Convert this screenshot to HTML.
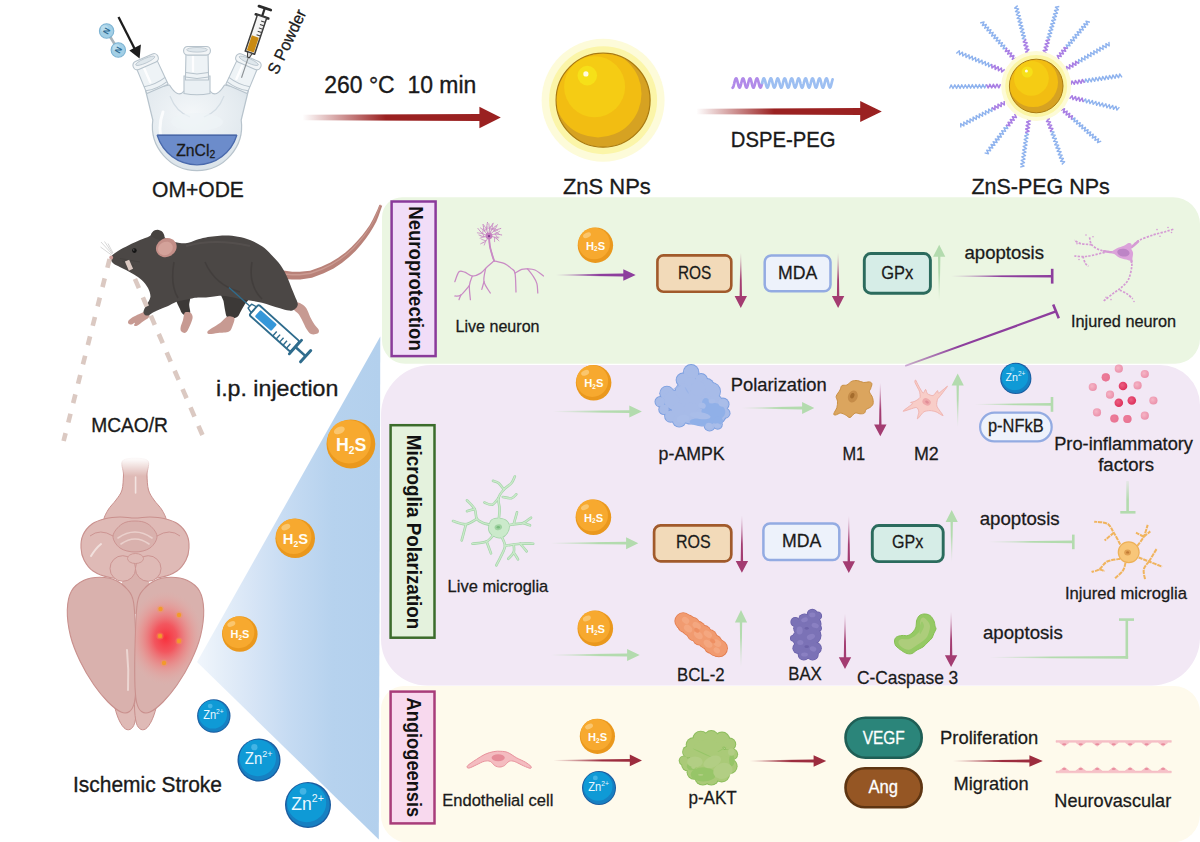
<!DOCTYPE html>
<html><head><meta charset="utf-8"><title>ZnS-PEG NPs scheme</title>
<style>html,body{margin:0;padding:0;background:#fff}svg{display:block}text{font-family:"Liberation Sans",sans-serif}</style></head>
<body>
<svg width="1200" height="842" viewBox="0 0 1200 842">
<defs>
<linearGradient id="beam" gradientUnits="userSpaceOnUse" x1="197" y1="0" x2="380" y2="0"><stop offset="0" stop-color="#f1f6fc"/><stop offset="0.12" stop-color="#e6eff9"/><stop offset="0.3" stop-color="#d7e5f6"/><stop offset="0.52" stop-color="#c4daf2"/><stop offset="0.74" stop-color="#b6d2ee"/><stop offset="1" stop-color="#b3d0ed"/></linearGradient>
<radialGradient id="glass" cx="0.45" cy="0.35" r="0.7"><stop offset="0" stop-color="#f4f7f9"/><stop offset="0.7" stop-color="#e3eaef"/><stop offset="1" stop-color="#d7e0e7"/></radialGradient>
<linearGradient id="stemfade" x1="0" y1="0" x2="0" y2="1"><stop offset="0" stop-color="#fff" stop-opacity="1"/><stop offset="0.12" stop-color="#fff" stop-opacity="0.9"/><stop offset="0.5" stop-color="#fff" stop-opacity="0"/></linearGradient>
<radialGradient id="isch"><stop offset="0" stop-color="#f8303c" stop-opacity="1"/><stop offset="0.3" stop-color="#f64a54" stop-opacity="0.88"/><stop offset="0.65" stop-color="#f0807f" stop-opacity="0.5"/><stop offset="1" stop-color="#e6a9a6" stop-opacity="0"/></radialGradient>
<linearGradient id="ha1" gradientUnits="userSpaceOnUse" x1="302.5" y1="0" x2="500.8" y2="0"><stop offset="0" stop-color="#9a2121" stop-opacity="0"/><stop offset="0.42" stop-color="#9a2121" stop-opacity="1"/><stop offset="1" stop-color="#9a2121"/></linearGradient>
<linearGradient id="ha2" gradientUnits="userSpaceOnUse" x1="696.3" y1="0" x2="881.8" y2="0"><stop offset="0" stop-color="#9a2121" stop-opacity="0"/><stop offset="0.42" stop-color="#9a2121" stop-opacity="1"/><stop offset="1" stop-color="#9a2121"/></linearGradient>
<linearGradient id="ha3" gradientUnits="userSpaceOnUse" x1="556" y1="0" x2="635.7" y2="0"><stop offset="0" stop-color="#8d3e9d" stop-opacity="0"/><stop offset="0.55" stop-color="#8d3e9d" stop-opacity="1"/><stop offset="1" stop-color="#8d3e9d"/></linearGradient>
<linearGradient id="va4" gradientUnits="userSpaceOnUse" x1="0" y1="252.7" x2="0" y2="307.9"><stop offset="0" stop-color="#a33c71" stop-opacity="0"/><stop offset="0.5" stop-color="#a33c71" stop-opacity="1"/><stop offset="1" stop-color="#a33c71"/></linearGradient>
<linearGradient id="va5" gradientUnits="userSpaceOnUse" x1="0" y1="252.7" x2="0" y2="307.9"><stop offset="0" stop-color="#a33c71" stop-opacity="0"/><stop offset="0.5" stop-color="#a33c71" stop-opacity="1"/><stop offset="1" stop-color="#a33c71"/></linearGradient>
<linearGradient id="va6" gradientUnits="userSpaceOnUse" x1="0" y1="300.7" x2="0" y2="244.7"><stop offset="0" stop-color="#b3dbae" stop-opacity="0"/><stop offset="0.5" stop-color="#b3dbae" stop-opacity="1"/><stop offset="1" stop-color="#b3dbae"/></linearGradient>
<linearGradient id="tb7" gradientUnits="userSpaceOnUse" x1="951" y1="0" x2="1052.2" y2="0"><stop offset="0" stop-color="#8d3e9d" stop-opacity="0"/><stop offset="0.5" stop-color="#8d3e9d" stop-opacity="1"/><stop offset="1" stop-color="#8d3e9d"/></linearGradient>
<linearGradient id="dg8" gradientUnits="userSpaceOnUse" x1="893" y1="370" x2="1056" y2="311"><stop offset="0" stop-color="#8d3e9d" stop-opacity="0.25"/><stop offset="0.4" stop-color="#8d3e9d"/><stop offset="1" stop-color="#8d3e9d"/></linearGradient>
<linearGradient id="ha9" gradientUnits="userSpaceOnUse" x1="553" y1="0" x2="641.9" y2="0"><stop offset="0" stop-color="#b3dbae" stop-opacity="0"/><stop offset="0.55" stop-color="#b3dbae" stop-opacity="1"/><stop offset="1" stop-color="#b3dbae"/></linearGradient>
<linearGradient id="ha10" gradientUnits="userSpaceOnUse" x1="741.7" y1="0" x2="814.3" y2="0"><stop offset="0" stop-color="#b3dbae" stop-opacity="0"/><stop offset="0.55" stop-color="#b3dbae" stop-opacity="1"/><stop offset="1" stop-color="#b3dbae"/></linearGradient>
<linearGradient id="va11" gradientUnits="userSpaceOnUse" x1="0" y1="382.8" x2="0" y2="436.3"><stop offset="0" stop-color="#a33c71" stop-opacity="0"/><stop offset="0.5" stop-color="#a33c71" stop-opacity="1"/><stop offset="1" stop-color="#a33c71"/></linearGradient>
<linearGradient id="va12" gradientUnits="userSpaceOnUse" x1="0" y1="427" x2="0" y2="373.4"><stop offset="0" stop-color="#b3dbae" stop-opacity="0"/><stop offset="0.5" stop-color="#b3dbae" stop-opacity="1"/><stop offset="1" stop-color="#b3dbae"/></linearGradient>
<linearGradient id="tb13" gradientUnits="userSpaceOnUse" x1="974.7" y1="0" x2="1052" y2="0"><stop offset="0" stop-color="#b3dbae" stop-opacity="0"/><stop offset="0.5" stop-color="#b3dbae" stop-opacity="1"/><stop offset="1" stop-color="#b3dbae"/></linearGradient>
<linearGradient id="vt14" gradientUnits="userSpaceOnUse" x1="0" y1="481" x2="0" y2="512"><stop offset="0" stop-color="#b3dbae" stop-opacity="0.2"/><stop offset="0.6" stop-color="#b3dbae"/></linearGradient>
<linearGradient id="ha15" gradientUnits="userSpaceOnUse" x1="550.5" y1="0" x2="638.3" y2="0"><stop offset="0" stop-color="#b3dbae" stop-opacity="0"/><stop offset="0.55" stop-color="#b3dbae" stop-opacity="1"/><stop offset="1" stop-color="#b3dbae"/></linearGradient>
<linearGradient id="va16" gradientUnits="userSpaceOnUse" x1="0" y1="515.3" x2="0" y2="572.7"><stop offset="0" stop-color="#a33c71" stop-opacity="0"/><stop offset="0.5" stop-color="#a33c71" stop-opacity="1"/><stop offset="1" stop-color="#a33c71"/></linearGradient>
<linearGradient id="va17" gradientUnits="userSpaceOnUse" x1="0" y1="516" x2="0" y2="573"><stop offset="0" stop-color="#a33c71" stop-opacity="0"/><stop offset="0.5" stop-color="#a33c71" stop-opacity="1"/><stop offset="1" stop-color="#a33c71"/></linearGradient>
<linearGradient id="va18" gradientUnits="userSpaceOnUse" x1="0" y1="562" x2="0" y2="510"><stop offset="0" stop-color="#b3dbae" stop-opacity="0"/><stop offset="0.5" stop-color="#b3dbae" stop-opacity="1"/><stop offset="1" stop-color="#b3dbae"/></linearGradient>
<linearGradient id="tb19" gradientUnits="userSpaceOnUse" x1="988.3" y1="0" x2="1073.3" y2="0"><stop offset="0" stop-color="#b3dbae" stop-opacity="0"/><stop offset="0.5" stop-color="#b3dbae" stop-opacity="1"/><stop offset="1" stop-color="#b3dbae"/></linearGradient>
<linearGradient id="ha20" gradientUnits="userSpaceOnUse" x1="550.8" y1="0" x2="639.7" y2="0"><stop offset="0" stop-color="#b3dbae" stop-opacity="0"/><stop offset="0.55" stop-color="#b3dbae" stop-opacity="1"/><stop offset="1" stop-color="#b3dbae"/></linearGradient>
<linearGradient id="va21" gradientUnits="userSpaceOnUse" x1="0" y1="667" x2="0" y2="610"><stop offset="0" stop-color="#b3dbae" stop-opacity="0"/><stop offset="0.5" stop-color="#b3dbae" stop-opacity="1"/><stop offset="1" stop-color="#b3dbae"/></linearGradient>
<linearGradient id="va22" gradientUnits="userSpaceOnUse" x1="0" y1="613.8" x2="0" y2="669"><stop offset="0" stop-color="#a33c71" stop-opacity="0"/><stop offset="0.5" stop-color="#a33c71" stop-opacity="1"/><stop offset="1" stop-color="#a33c71"/></linearGradient>
<linearGradient id="va23" gradientUnits="userSpaceOnUse" x1="0" y1="611.7" x2="0" y2="667"><stop offset="0" stop-color="#a33c71" stop-opacity="0"/><stop offset="0.5" stop-color="#a33c71" stop-opacity="1"/><stop offset="1" stop-color="#a33c71"/></linearGradient>
<linearGradient id="lt24" gradientUnits="userSpaceOnUse" x1="989" y1="0" x2="1128" y2="0"><stop offset="0" stop-color="#b3dbae" stop-opacity="0"/><stop offset="0.45" stop-color="#b3dbae"/></linearGradient>
<linearGradient id="ha25" gradientUnits="userSpaceOnUse" x1="553.3" y1="0" x2="642" y2="0"><stop offset="0" stop-color="#9c2c3e" stop-opacity="0"/><stop offset="0.55" stop-color="#9c2c3e" stop-opacity="1"/><stop offset="1" stop-color="#9c2c3e"/></linearGradient>
<linearGradient id="ha26" gradientUnits="userSpaceOnUse" x1="749.6" y1="0" x2="826.2" y2="0"><stop offset="0" stop-color="#9c2c3e" stop-opacity="0"/><stop offset="0.55" stop-color="#9c2c3e" stop-opacity="1"/><stop offset="1" stop-color="#9c2c3e"/></linearGradient>
<linearGradient id="ha27" gradientUnits="userSpaceOnUse" x1="952.7" y1="0" x2="1042.8" y2="0"><stop offset="0" stop-color="#9c2c3e" stop-opacity="0"/><stop offset="0.55" stop-color="#9c2c3e" stop-opacity="1"/><stop offset="1" stop-color="#9c2c3e"/></linearGradient>
<radialGradient id="pf1" cx="0.4" cy="0.4" r="0.65"><stop offset="0" stop-color="#f6b5c6"/><stop offset="1" stop-color="#ea8fa9"/></radialGradient>
<radialGradient id="pf2" cx="0.4" cy="0.4" r="0.65"><stop offset="0" stop-color="#ec5f82"/><stop offset="1" stop-color="#dc2d58"/></radialGradient>
</defs>
<rect width="1200" height="842" fill="#fff"/>
<polygon points="197,662 380.3,336.5 378.8,839.5" fill="url(#beam)"/>
<path d="M402,197.2 H1173 a27,27 0 0 1 27,27 V338.7 a25,25 0 0 1 -25,25 H405 a23,23 0 0 1 -23,-23 V217.2 a20,20 0 0 1 20,-20 Z" fill="#ebf6e2"/>
<path d="M431,365 H1160 a40,40 0 0 1 40,40 V637.5 a48,48 0 0 1 -48,48 H427 a46,46 0 0 1 -46,-46 V415 a50,50 0 0 1 50,-50 Z" fill="#f2e8f5"/>
<path d="M404,686 H1174 a26,26 0 0 1 26,26 V814.5 a28,28 0 0 1 -28,28 H408 a27,27 0 0 1 -27,-27 V709 a23,23 0 0 1 23,-23 Z" fill="#fefaec"/>
<path d="M145.5,90 L152.8,120 A44.6,44.6 0 1 0 241.2,120 L248.5,90 L224.5,85 Q216,99 210,91 L184,91 Q178,99 169.5,85 Z" fill="url(#glass)" stroke="#b7c3cc" stroke-width="1.2" stroke-linejoin="round"/>
<g transform="translate(143.9,57.8) rotate(-23.7)"><path d="M-11,6 L-11.6,34 L11.6,34 L11,6 Z" fill="#eef3f6" stroke="#b7c3cc" stroke-width="1.1"/><path d="M-11.5,26.5 Q0,29.5 11.5,26.5 M-11.6,31 Q0,34 11.6,31" fill="none" stroke="#b7c3cc" stroke-width="1"/><path d="M-4,10 L-4,25" stroke="#fff" stroke-width="2.4" stroke-linecap="round" opacity="0.9"/><rect x="-13.4" y="0" width="26.8" height="8.6" rx="4" fill="#f2f5f7" stroke="#b7c3cc" stroke-width="1.1"/><ellipse cx="0" cy="3.3" rx="10.4" ry="2.3" fill="#dfe7ec" stroke="#b7c3cc" stroke-width="0.8"/></g>
<g transform="translate(250.1,57.8) rotate(23.7)"><path d="M-11,6 L-11.6,34 L11.6,34 L11,6 Z" fill="#eef3f6" stroke="#b7c3cc" stroke-width="1.1"/><path d="M-11.5,26.5 Q0,29.5 11.5,26.5 M-11.6,31 Q0,34 11.6,31" fill="none" stroke="#b7c3cc" stroke-width="1"/><path d="M-4,10 L-4,25" stroke="#fff" stroke-width="2.4" stroke-linecap="round" opacity="0.9"/><rect x="-13.4" y="0" width="26.8" height="8.6" rx="4" fill="#f2f5f7" stroke="#b7c3cc" stroke-width="1.1"/><ellipse cx="0" cy="3.3" rx="10.4" ry="2.3" fill="#dfe7ec" stroke="#b7c3cc" stroke-width="0.8"/></g>
<path d="M184,76 L184,93.5 Q197,96 210,93.5 L210,76 Z" fill="#eaf0f4" stroke="#b7c3cc" stroke-width="1.1"/>
<g transform="translate(197,46.5) rotate(0)"><path d="M-11,6 L-11.6,33.5 L11.6,33.5 L11,6 Z" fill="#eef3f6" stroke="#b7c3cc" stroke-width="1.1"/><path d="M-11.5,26.0 Q0,29.0 11.5,26.0 M-11.6,30.5 Q0,33.5 11.6,30.5" fill="none" stroke="#b7c3cc" stroke-width="1"/><path d="M-4,10 L-4,24.5" stroke="#fff" stroke-width="2.4" stroke-linecap="round" opacity="0.9"/><rect x="-13.4" y="0" width="26.8" height="8.6" rx="4" fill="#f2f5f7" stroke="#b7c3cc" stroke-width="1.1"/><ellipse cx="0" cy="3.3" rx="10.4" ry="2.3" fill="#dfe7ec" stroke="#b7c3cc" stroke-width="0.8"/></g>
<path d="M163,112 Q157,128 163,146" fill="none" stroke="#fff" stroke-width="3" stroke-linecap="round" opacity="0.8"/>
<path d="M170,96 Q176,112 190,117 M224,96 Q218,112 204,117" fill="none" stroke="#d0dae2" stroke-width="1.2" opacity="0.9"/>
<ellipse cx="197" cy="122" rx="26" ry="9" fill="#eef3f6" opacity="0.7"/>
<path d="M157.2,135.3 L236.8,135.3 A41.6,41.6 0 0 1 157.2,135.3 Z" fill="#6c8ccb" stroke="#4969ac" stroke-width="1.3" stroke-linejoin="round"/>
<path d="M157.2,135.3 L236.8,135.3" stroke="#4a68a8" stroke-width="1.5"/>
<line x1="106.6" y1="31" x2="118.3" y2="50" stroke="#a9b4bb" stroke-width="2.6"/>
<circle cx="106.6" cy="31" r="7.2" fill="#a2cfe6" stroke="#7cb3d3" stroke-width="1.1"/>
<circle cx="104.6" cy="28.8" r="3.6" fill="#bfe0f0" opacity="0.8"/>
<text x="103.6" y="34" font-size="8.4" font-weight="bold" fill="#2d6b93" transform="rotate(-62 106.6 31)">N</text>
<circle cx="118.3" cy="50" r="7.2" fill="#a2cfe6" stroke="#7cb3d3" stroke-width="1.1"/>
<circle cx="116.3" cy="47.8" r="3.6" fill="#bfe0f0" opacity="0.8"/>
<text x="115.3" y="53" font-size="8.4" font-weight="bold" fill="#2d6b93" transform="rotate(-62 118.3 50)">N</text>
<line x1="118.5" y1="17" x2="135" y2="49.5" stroke="#1d1d1d" stroke-width="2.3"/>
<polygon points="139.6,58.5 129.3,50.6 140.9,44.6" fill="#1d1d1d"/>
<g transform="translate(265.0,7.6) rotate(108.5)" stroke-linejoin="round"><line x1="47" y1="0" x2="74" y2="0" stroke="#8a8f93" stroke-width="1.1"/><line x1="0.5" y1="-6.2" x2="0.5" y2="6.2" stroke="#2b2b2b" stroke-width="2.8" stroke-linecap="round"/><line x1="0.5" y1="0" x2="10" y2="0" stroke="#2b2b2b" stroke-width="2.2"/><line x1="9.3" y1="-6.6" x2="9.3" y2="6.6" stroke="#2b2b2b" stroke-width="2.6" stroke-linecap="round"/><rect x="9.3" y="-4.9" width="38.2" height="9.8" fill="#f4f4f4" stroke="#3d3d3d" stroke-width="1.5"/><rect x="30.5" y="-3.7" width="15.6" height="7.4" fill="#c98a12"/><path d="M47.5,-2.4 L52.5,-1 L52.5,1 L47.5,2.4 Z" fill="#d8d8d8" stroke="#3d3d3d" stroke-width="1"/><path d="M14,-4.6 v4 M17.6,-4.6 v4 M21.2,-4.6 v4 M24.8,-4.6 v4 M28.4,-4.6 v4" stroke="#3d3d3d" stroke-width="1"/></g>
<circle cx="603.1" cy="100.2" r="61.5" fill="#fdfbd9"/>
<circle cx="603.1" cy="100.2" r="54" fill="#fbf5a8"/>
<circle cx="603.1" cy="100.2" r="47" fill="#d6a222" stroke="#a97a10" stroke-width="1.2"/>
<clipPath id="zc"><circle cx="603.1" cy="100.2" r="46.4"/></clipPath>
<g clip-path="url(#zc)"><circle cx="597.9" cy="93.8" r="43.6" fill="#f2bd12"/><circle cx="594.6" cy="86.7" r="30.5" fill="#f5cc14"/><circle cx="587.3000000000001" cy="75.6" r="9.8" fill="#f6e018"/><circle cx="585.9" cy="73.9" r="2.6" fill="#fffbe0"/></g>
<polyline points="732.6,87.7 733.1,87.2 733.6,85.9 734.1,84.0 734.6,81.9 735.1,80.0 735.6,78.7 736.1,78.3 736.6,78.8 737.1,80.2 737.6,82.1 738.1,84.2 738.6,86.1 739.1,87.3 739.6,87.7 740.1,87.1 740.6,85.7 741.1,83.8 741.6,81.7 742.1,79.8 742.6,78.6 743.1,78.3 743.6,78.9 744.1,80.4 744.6,82.3 745.1,84.4 745.6,86.2 746.1,87.4 746.6,87.7 747.1,87.0 747.6,85.6 748.1,83.6 748.6,81.5 749.1,79.7 749.6,78.6 750.1,78.3 750.6,79.0 751.1,80.5 751.6,82.5 752.1,84.6 752.6,86.4 753.1,87.5 753.6,87.7 754.1,86.9 754.6,85.4 755.1,83.4 755.6,81.3 756.1,79.5 756.6,78.5 757.1,78.4 757.6,79.1 758.1,80.7 758.6,82.7 759.1,84.8 759.6,86.5 760.1,87.5 760.6,87.6 761.1,86.8 761.6,85.2 762.1,83.2" fill="none" stroke="#b18ae9" stroke-width="2.7" stroke-linecap="round" stroke-linejoin="round"/>
<polyline points="762.1,83.2 762.6,81.1 763.1,79.4 763.6,78.4 764.1,78.4 764.6,79.3 765.1,80.9 765.6,82.9 766.1,85.0 766.6,86.7 767.1,87.6 767.6,87.6 768.1,86.7 768.6,85.0 769.1,82.9 769.6,80.9 770.1,79.3 770.6,78.4 771.1,78.4 771.6,79.4 772.1,81.1 772.6,83.2 773.1,85.2 773.6,86.8 774.1,87.6 774.6,87.5 775.1,86.5 775.6,84.8 776.1,82.7 776.6,80.7 777.1,79.1 777.6,78.4 778.1,78.5 778.6,79.5 779.1,81.3 779.6,83.4 780.1,85.4 780.6,86.9 781.1,87.7 781.6,87.5 782.1,86.4 782.6,84.6 783.1,82.5 783.6,80.5 784.1,79.0 784.6,78.3 785.1,78.6 785.6,79.7 786.1,81.5 786.6,83.6 787.1,85.6 787.6,87.0 788.1,87.7 788.6,87.4 789.1,86.2 789.6,84.4 790.1,82.3 790.6,80.4 791.1,78.9 791.6,78.3 792.1,78.6 792.6,79.8 793.1,81.7 793.6,83.8 794.1,85.7 794.6,87.1 795.1,87.7 795.6,87.3 796.1,86.1 796.6,84.2 797.1,82.1 797.6,80.2 798.1,78.8 798.6,78.3 799.1,78.7 799.6,80.0 800.1,81.9 800.6,84.0 801.1,85.9 801.6,87.2 802.1,87.7 802.6,87.2 803.1,85.9 803.6,84.0 804.1,81.9 804.6,80.0 805.1,78.7 805.6,78.3 806.1,78.8 806.6,80.2 807.1,82.1 807.6,84.2 808.1,86.1 808.6,87.3 809.1,87.7 809.6,87.1 810.1,85.7 810.6,83.8 811.1,81.7 811.6,79.8 812.1,78.6 812.6,78.3 813.1,78.9 813.6,80.4 814.1,82.3 814.6,84.4 815.1,86.2 815.6,87.4 816.1,87.7 816.6,87.0 817.1,85.6 817.6,83.6 818.1,81.5 818.6,79.7 819.1,78.6 819.6,78.3 820.1,79.0 820.6,80.5 821.1,82.5 821.6,84.6 822.1,86.4 822.6,87.5 823.1,87.7 823.6,86.9 824.1,85.4 824.6,83.4 825.1,81.3 825.6,79.5 826.1,78.5 826.6,78.4 827.1,79.1 827.6,80.7 828.1,82.7 828.6,84.8 829.1,86.5 829.6,87.5 830.1,87.6 830.6,86.8 831.1,85.2 831.6,83.2 832.1,81.1 832.6,79.4" fill="none" stroke="#9dbff2" stroke-width="2.7" stroke-linecap="round" stroke-linejoin="round"/>
<polyline points="1026.2,39.4 1022.3,38.6 1025.4,36.0 1021.5,35.2 1024.5,32.6 1020.6,31.8 1023.7,29.3 1019.8,28.4 1022.8,25.9 1018.9,25.1 1022.0,22.5 1018.1,21.7 1021.1,19.1 1017.2,18.3 1020.3,15.7 1016.4,14.9 1019.4,12.3 1015.5,11.5 1018.6,8.9 1014.7,8.1 1017.7,5.6" fill="none" stroke="#8fb3ee" stroke-width="1.4" stroke-linejoin="round"/>
<polyline points="1029.6,53.0 1025.7,52.1 1028.8,49.6 1024.9,48.8 1027.9,46.2 1024.0,45.4 1027.1,42.8 1023.2,42.0 1026.2,39.4" fill="none" stroke="#a97fe4" stroke-width="1.55" stroke-linejoin="round"/>
<polyline points="1050.0,39.8 1047.0,37.2 1050.9,36.5 1047.9,33.9 1051.8,33.2 1048.8,30.5 1052.8,29.8 1049.8,27.2 1053.7,26.5 1050.7,23.9 1054.7,23.2 1051.7,20.5 1055.6,19.8 1052.6,17.2 1056.5,16.5 1053.5,13.9 1057.5,13.2 1054.5,10.5 1058.4,9.8 1055.4,7.2 1059.3,6.5" fill="none" stroke="#8fb3ee" stroke-width="1.4" stroke-linejoin="round"/>
<polyline points="1046.2,53.2 1043.2,50.5 1047.2,49.9 1044.2,47.2 1048.1,46.5 1045.1,43.9 1049.0,43.2 1046.0,40.5 1050.0,39.8" fill="none" stroke="#a97fe4" stroke-width="1.55" stroke-linejoin="round"/>
<polyline points="1067.8,48.6 1066.2,45.0 1070.0,45.9 1068.4,42.3 1072.2,43.3 1070.6,39.7 1074.4,40.7 1072.8,37.0 1076.6,38.0 1075.0,34.4 1078.8,35.4 1077.2,31.7 1081.1,32.7 1079.4,29.1 1083.3,30.1 1081.6,26.5 1085.5,27.4 1083.8,23.8 1087.7,24.8 1086.0,21.2 1089.9,22.2" fill="none" stroke="#8fb3ee" stroke-width="1.4" stroke-linejoin="round"/>
<polyline points="1059.0,59.2 1057.3,55.5 1061.2,56.5 1059.5,52.9 1063.4,53.9 1061.7,50.2 1065.6,51.2 1063.9,47.6 1067.8,48.6" fill="none" stroke="#a97fe4" stroke-width="1.55" stroke-linejoin="round"/>
<polyline points="1078.9,63.5 1078.6,59.5 1081.9,61.8 1081.6,57.8 1085.0,60.0 1084.7,56.0 1088.0,58.2 1087.7,54.3 1091.0,56.5 1090.7,52.5 1094.1,54.7 1093.8,50.7 1097.1,53.0 1096.8,49.0 1100.1,51.2 1099.8,47.2 1103.1,49.5 1102.8,45.5 1106.2,47.7 1105.9,43.7 1109.2,45.9 1108.9,41.9" fill="none" stroke="#8fb3ee" stroke-width="1.4" stroke-linejoin="round"/>
<polyline points="1066.8,70.6 1066.5,66.6 1069.8,68.8 1069.5,64.8 1072.9,67.0 1072.6,63.0 1075.9,65.3 1075.6,61.3 1078.9,63.5" fill="none" stroke="#a97fe4" stroke-width="1.55" stroke-linejoin="round"/>
<polyline points="1084.5,82.8 1085.7,79.0 1087.9,82.3 1089.1,78.5 1091.3,81.8 1092.5,78.0 1094.7,81.3 1095.9,77.5 1098.1,80.8 1099.3,77.0 1101.5,80.3 1102.7,76.5 1104.9,79.8 1106.1,76.0 1108.3,79.3 1109.5,75.5 1111.7,78.8 1112.9,75.0 1115.1,78.3 1116.3,74.5 1118.6,77.8 1119.7,74.0 1122.0,77.3" fill="none" stroke="#8fb3ee" stroke-width="1.4" stroke-linejoin="round"/>
<polyline points="1070.9,84.8 1072.0,81.0 1074.3,84.3 1075.4,80.5 1077.7,83.8 1078.9,80.0 1081.1,83.3 1082.3,79.5 1084.5,82.8" fill="none" stroke="#a97fe4" stroke-width="1.55" stroke-linejoin="round"/>
<polyline points="1083.1,102.0 1085.6,98.9 1086.5,102.8 1089.0,99.7 1089.9,103.6 1092.4,100.5 1093.2,104.4 1095.8,101.4 1096.6,105.3 1099.1,102.2 1100.0,106.1 1102.5,103.0 1103.4,106.9 1105.9,103.8 1106.8,107.7 1109.3,104.6 1110.1,108.5 1112.7,105.4 1113.5,109.3 1116.0,106.2 1116.9,110.1 1119.4,107.1" fill="none" stroke="#8fb3ee" stroke-width="1.4" stroke-linejoin="round"/>
<polyline points="1069.6,98.7 1072.1,95.7 1073.0,99.6 1075.5,96.5 1076.3,100.4 1078.9,97.3 1079.7,101.2 1082.2,98.1 1083.1,102.0" fill="none" stroke="#a97fe4" stroke-width="1.55" stroke-linejoin="round"/>
<polyline points="1071.3,119.6 1075.0,118.0 1073.9,121.9 1077.6,120.4 1076.5,124.2 1080.2,122.7 1079.2,126.5 1082.8,125.0 1081.8,128.8 1085.5,127.3 1084.4,131.1 1088.1,129.6 1087.0,133.5 1090.7,131.9 1089.6,135.8 1093.3,134.2 1092.3,138.1 1095.9,136.5 1094.9,140.4 1098.6,138.8 1097.5,142.7 1101.2,141.1" fill="none" stroke="#8fb3ee" stroke-width="1.4" stroke-linejoin="round"/>
<polyline points="1060.8,110.4 1064.5,108.8 1063.4,112.7 1067.1,111.1 1066.1,115.0 1069.7,113.4 1068.7,117.3 1072.4,115.7 1071.3,119.6" fill="none" stroke="#a97fe4" stroke-width="1.55" stroke-linejoin="round"/>
<polyline points="1050.0,131.5 1054.0,131.9 1051.2,134.8 1055.2,135.2 1052.4,138.1 1056.4,138.5 1053.6,141.4 1057.5,141.9 1054.7,144.7 1058.7,145.2 1055.9,148.0 1059.9,148.5 1057.1,151.3 1061.1,151.8 1058.3,154.7 1062.2,155.1 1059.4,158.0 1063.4,158.4 1060.6,161.3 1064.6,161.7 1061.8,164.6" fill="none" stroke="#8fb3ee" stroke-width="1.4" stroke-linejoin="round"/>
<polyline points="1045.3,118.2 1049.3,118.7 1046.5,121.5 1050.5,122.0 1047.7,124.8 1051.6,125.3 1048.8,128.1 1052.8,128.6 1050.0,131.5" fill="none" stroke="#a97fe4" stroke-width="1.55" stroke-linejoin="round"/>
<polyline points="1025.2,132.5 1028.5,134.7 1024.7,135.9 1028.0,138.2 1024.2,139.4 1027.5,141.7 1023.7,142.9 1027.0,145.1 1023.2,146.4 1026.5,148.6 1022.7,149.9 1026.0,152.1 1022.2,153.3 1025.5,155.6 1021.7,156.8 1025.0,159.1 1021.2,160.3 1024.5,162.5 1020.7,163.8 1024.0,166.0 1020.2,167.2" fill="none" stroke="#8fb3ee" stroke-width="1.4" stroke-linejoin="round"/>
<polyline points="1027.2,118.5 1030.5,120.8 1026.7,122.0 1030.0,124.3 1026.2,125.5 1029.5,127.8 1025.7,129.0 1029.0,131.2 1025.2,132.5" fill="none" stroke="#a97fe4" stroke-width="1.55" stroke-linejoin="round"/>
<polyline points="1006.0,125.0 1007.8,128.6 1003.9,127.8 1005.6,131.4 1001.7,130.6 1003.5,134.2 999.6,133.4 1001.4,137.0 997.4,136.2 999.2,139.8 995.3,139.0 997.1,142.6 993.1,141.8 994.9,145.3 991.0,144.5 992.8,148.1 988.9,147.3 990.6,150.9 986.7,150.1 988.5,153.7 984.6,152.9" fill="none" stroke="#8fb3ee" stroke-width="1.4" stroke-linejoin="round"/>
<polyline points="1014.6,113.9 1016.4,117.5 1012.4,116.7 1014.2,120.3 1010.3,119.5 1012.1,123.1 1008.1,122.3 1009.9,125.8 1006.0,125.0" fill="none" stroke="#a97fe4" stroke-width="1.55" stroke-linejoin="round"/>
<polyline points="991.8,107.5 991.9,111.5 988.7,109.1 988.8,113.1 985.5,110.7 985.7,114.7 982.4,112.3 982.6,116.3 979.3,113.9 979.5,117.9 976.2,115.5 976.3,119.5 973.1,117.1 973.2,121.1 970.0,118.8 970.1,122.8 966.9,120.4 967.0,124.4 963.8,122.0 963.9,126.0 960.7,123.6 960.8,127.6" fill="none" stroke="#8fb3ee" stroke-width="1.4" stroke-linejoin="round"/>
<polyline points="1004.2,101.0 1004.3,105.0 1001.1,102.6 1001.2,106.6 998.0,104.2 998.1,108.2 994.9,105.8 995.0,109.8 991.8,107.5" fill="none" stroke="#a97fe4" stroke-width="1.55" stroke-linejoin="round"/>
<polyline points="986.4,84.4 984.7,88.0 982.9,84.4 981.2,88.1 979.4,84.5 977.7,88.1 975.9,84.5 974.1,88.2 972.3,84.6 970.6,88.2 968.8,84.6 967.1,88.3 965.3,84.7 963.6,88.3 961.8,84.7 960.1,88.4 958.3,84.8 956.6,88.4 954.8,84.8 953.0,88.5 951.2,84.9 949.5,88.5" fill="none" stroke="#8fb3ee" stroke-width="1.4" stroke-linejoin="round"/>
<polyline points="1000.5,84.2 998.8,87.8 997.0,84.2 995.2,87.9 993.4,84.3 991.7,87.9 989.9,84.3 988.2,88.0 986.4,84.4" fill="none" stroke="#a97fe4" stroke-width="1.55" stroke-linejoin="round"/>
<polyline points="991.7,64.0 988.7,66.7 988.5,62.7 985.5,65.4 985.2,61.4 982.3,64.1 982.0,60.1 979.0,62.7 978.7,58.7 975.8,61.4 975.5,57.4 972.5,60.1 972.3,56.1 969.3,58.8 969.0,54.8 966.0,57.4 965.8,53.4 962.8,56.1 962.5,52.1 959.6,54.8 959.3,50.8 956.3,53.5" fill="none" stroke="#8fb3ee" stroke-width="1.4" stroke-linejoin="round"/>
<polyline points="1004.7,69.3 1001.7,72.0 1001.4,68.0 998.5,70.7 998.2,66.7 995.2,69.4 995.0,65.4 992.0,68.0 991.7,64.0" fill="none" stroke="#a97fe4" stroke-width="1.55" stroke-linejoin="round"/>
<polyline points="1007.0,47.8 1003.1,48.9 1004.7,45.2 1000.8,46.3 1002.4,42.6 998.5,43.7 1000.1,40.1 996.2,41.1 997.8,37.5 993.9,38.6 995.5,34.9 991.6,36.0 993.2,32.3 989.3,33.4 990.9,29.7 987.0,30.8 988.6,27.1 984.7,28.2 986.3,24.5 982.4,25.6 984.0,21.9 980.2,23.0" fill="none" stroke="#8fb3ee" stroke-width="1.4" stroke-linejoin="round"/>
<polyline points="1016.1,58.2 1012.3,59.3 1013.9,55.6 1010.0,56.7 1011.6,53.0 1007.7,54.1 1009.3,50.4 1005.4,51.5 1007.0,47.8" fill="none" stroke="#a97fe4" stroke-width="1.55" stroke-linejoin="round"/>
<circle cx="1036.2" cy="86" r="35" fill="#fdfbd6"/>
<circle cx="1036.2" cy="86" r="31" fill="#fbf5a5"/>
<circle cx="1036.2" cy="86" r="26.8" fill="#d6a222" stroke="#a97a10" stroke-width="1"/>
<clipPath id="zc2"><circle cx="1036.2" cy="86" r="26.3"/></clipPath>
<g clip-path="url(#zc2)"><circle cx="1033.2" cy="82.3" r="24.8" fill="#f2bd12"/><circle cx="1031.4" cy="78.3" r="17.4" fill="#f5cc14"/><circle cx="1027.2" cy="72" r="5.6" fill="#f6e018"/><circle cx="1026.4" cy="71" r="1.5" fill="#fffbe0"/></g>
<polygon points="282.5,278.7 291.8,279.5 300.3,279.4 311.9,277.7 323.8,273.2 333.6,268.4 341.8,262.9 348.9,257.3 355.5,251.0 361.0,244.7 365.9,238.5 369.9,232.8 373.4,227.1 376.4,221.4 378.7,215.7 380.5,210.6 382.2,205.8 379.4,204.8 377.5,209.4 375.3,214.3 372.8,219.6 369.8,224.9 366.1,230.2 362.1,235.5 357.0,241.3 351.5,247.0 345.1,252.7 338.2,257.7 330.4,262.6 321.2,266.8 310.1,270.7 299.7,271.8 292.2,271.7 283.5,270.5" fill="#b98279"/>
<polygon points="282.6,274.5 291.7,275.5 299.8,275.4 310.9,274.0 322.5,269.7 332.0,265.1 340.0,259.9 347.1,254.5 353.6,248.5 359.1,242.4 364.1,236.4 368.0,230.8 371.6,225.3 374.6,219.8 377.0,214.2 379.0,209.2 380.7,204.5 380.3,204.3 378.4,209.0 376.4,214.0 374.0,219.4 371.0,224.9 367.4,230.4 363.3,235.8 358.3,241.8 352.8,247.7 346.3,253.7 339.4,258.9 331.4,264.1 321.9,268.5 310.5,272.6 299.6,274.0 291.7,273.9 282.8,272.9" fill="#cfa198" opacity="0.8"/>
<path d="M221.7,293.0 C219.8,295.2 222.9,298.2 223.5,301.0 C224.1,303.8 224.4,307.3 225.0,310.0 C225.6,312.7 225.8,315.6 227.0,317.0 C228.2,318.4 230.2,318.5 232.0,318.5 C233.8,318.5 236.0,318.1 237.5,316.8 C239.0,315.6 239.8,313.1 241.0,311.0 C242.2,308.9 243.7,306.0 245.0,304.0 C246.3,302.0 248.2,301.0 249.0,299.0 C249.8,297.0 252.3,293.8 250.0,292.0 C247.7,290.2 239.7,287.8 235.0,288.0 C230.3,288.2 223.6,290.8 221.7,293.0 Z" fill="#3c3937"/>
<path d="M176.0,298.0 C175.4,300.7 178.4,305.4 179.5,308.0 C180.6,310.6 181.3,312.6 182.5,313.8 C183.7,315.0 185.2,315.4 186.5,315.2 C187.8,315.0 189.8,314.2 190.2,312.5 C190.6,310.8 189.2,307.8 189.2,305.0 C189.2,302.2 191.0,298.2 190.0,296.0 C189.0,293.8 185.3,291.7 183.0,292.0 C180.7,292.3 176.6,295.3 176.0,298.0 Z" fill="#3c3937"/>
<path d="M226.5,317.0 C224.7,318.1 222.4,321.2 220.0,323.0 C217.6,324.8 214.1,326.6 212.0,328.0 C209.9,329.4 208.0,330.5 207.5,331.5 C207.0,332.5 207.2,333.8 209.0,334.0 C210.8,334.2 214.7,333.4 218.0,333.0 C221.3,332.6 226.6,332.7 229.0,331.5 C231.4,330.3 231.6,328.2 232.5,326.0 C233.4,323.8 234.8,320.1 234.5,318.5 C234.2,316.9 232.3,316.8 231.0,316.5 C229.7,316.2 228.3,315.9 226.5,317.0 Z" fill="#c79a92"/>
<path d="M184.5,313.0 C183.8,314.3 183.7,317.6 183.0,320.0 C182.3,322.4 180.8,325.6 180.6,327.5 C180.3,329.4 180.6,330.8 181.5,331.6 C182.4,332.5 184.5,333.4 185.8,332.6 C187.1,331.8 188.2,329.4 189.3,327.0 C190.4,324.6 192.3,320.3 192.6,318.0 C192.9,315.7 191.8,314.0 191.0,313.0 C190.2,312.0 188.6,312.0 187.5,312.0 C186.4,312.0 185.2,311.7 184.5,313.0 Z" fill="#c79a92"/>
<path d="M295.5,302.6 C296.8,301.7 299.7,303.0 301.5,304.0 C303.3,305.0 305.1,306.3 306.5,308.5 C307.9,310.7 308.9,314.3 310.2,317.0 C311.5,319.7 313.1,322.3 314.5,324.5 C315.9,326.7 318.3,328.5 318.8,330.0 C319.3,331.5 318.8,332.9 317.5,333.6 C316.2,334.3 312.8,334.8 311.0,334.0 C309.2,333.2 307.9,331.2 306.5,329.0 C305.1,326.8 303.8,323.5 302.5,321.0 C301.2,318.5 299.9,315.9 298.5,314.0 C297.1,312.1 294.5,311.4 294.0,309.5 C293.5,307.6 294.2,303.5 295.5,302.6 Z" fill="#c79a92"/>
<path d="M147.0,311.0 C145.6,310.9 143.2,312.3 141.0,313.2 C138.8,314.1 136.0,315.4 134.0,316.5 C132.0,317.6 130.0,318.9 129.0,320.0 C128.0,321.1 127.8,322.4 128.2,323.2 C128.6,324.0 130.4,324.7 131.5,324.6 C132.6,324.5 134.6,322.6 135.0,322.8 C135.4,323.0 133.6,325.2 134.0,325.6 C134.4,326.0 136.0,326.1 137.5,325.4 C139.0,324.7 141.2,322.8 143.0,321.5 C144.8,320.2 147.4,319.1 148.5,317.8 C149.6,316.5 149.8,314.6 149.5,313.5 C149.2,312.4 148.4,311.1 147.0,311.0 Z" fill="#c79a92"/>
<path d="M110.6,257.2 C111.5,255.3 115.0,253.0 118.0,251.0 C121.0,249.0 125.0,247.0 128.7,245.2 C132.4,243.4 136.6,241.5 140.0,240.0 C143.4,238.5 147.2,237.6 149.4,236.3 C151.6,235.0 151.9,233.0 153.2,232.0 C154.5,231.0 155.5,230.3 157.0,230.4 C158.5,230.5 160.8,231.2 162.0,232.3 C163.2,233.4 162.5,235.5 164.2,237.0 C165.9,238.5 168.4,240.1 172.0,241.2 C175.6,242.2 181.6,243.5 185.6,243.3 C189.6,243.1 192.6,241.0 196.0,240.0 C199.4,239.0 201.3,238.1 206.0,237.4 C210.7,236.7 219.0,235.7 224.3,235.6 C229.6,235.5 233.7,236.1 238.0,236.8 C242.3,237.5 246.0,238.4 250.0,240.0 C254.0,241.6 258.5,243.9 262.0,246.3 C265.5,248.7 268.1,251.5 270.8,254.2 C273.6,256.9 276.3,259.8 278.5,262.5 C280.7,265.2 282.3,267.8 283.9,270.5 C285.5,273.2 286.7,276.1 288.0,279.0 C289.3,281.9 290.4,285.2 291.5,288.0 C292.6,290.8 293.8,293.2 294.8,296.0 C295.9,298.8 297.9,302.3 297.8,304.5 C297.7,306.7 295.9,308.4 294.4,309.4 C292.9,310.4 291.4,310.8 289.0,310.6 C286.6,310.4 283.0,309.1 280.0,308.2 C277.0,307.3 273.8,306.3 270.8,305.4 C267.8,304.5 265.0,303.5 262.0,302.8 C259.0,302.1 256.2,301.6 253.0,301.0 C249.8,300.4 246.5,300.1 243.0,299.5 C239.5,298.9 235.6,297.8 232.0,297.2 C228.4,296.6 224.7,295.9 221.7,295.8 C218.7,295.7 216.6,296.3 214.0,296.6 C211.4,296.9 208.7,297.2 206.0,297.4 C203.3,297.6 200.3,297.4 198.0,297.6 C195.7,297.8 194.3,298.0 192.0,298.4 C189.7,298.8 186.7,299.4 184.0,300.0 C181.3,300.6 178.8,300.9 176.0,302.0 C173.2,303.1 170.2,305.1 167.5,306.3 C164.8,307.5 162.3,308.3 160.0,309.3 C157.7,310.3 155.4,311.3 153.5,312.3 C151.6,313.3 149.9,314.9 148.5,315.4 C147.1,315.8 145.8,315.6 145.0,315.0 C144.2,314.4 143.3,313.3 143.5,311.6 C143.7,309.9 145.2,307.4 146.4,305.0 C147.6,302.6 150.1,299.8 150.4,297.0 C150.7,294.2 149.4,290.8 148.0,288.0 C146.6,285.2 144.0,282.2 141.7,280.0 C139.4,277.8 136.6,276.2 134.0,274.5 C131.4,272.8 128.7,271.4 126.0,270.0 C123.3,268.6 120.3,267.3 118.0,266.0 C115.7,264.7 113.6,263.9 112.4,262.4 C111.2,260.9 109.7,259.1 110.6,257.2 Z" fill="#4b4745"/>
<path d="M205,262 Q215,285 240,292 M252,262 Q248,285 262,299 M174,262 Q170,285 178,298" fill="none" stroke="#3f3b39" stroke-width="1.6" opacity="0.7"/>
<path d="M186,246 Q215,238 250,246" fill="none" stroke="#5a5553" stroke-width="2" opacity="0.6"/>
<path d="M151.5,236.0 C150.3,234.6 152.0,232.5 153.0,231.5 C154.0,230.5 155.9,229.7 157.5,229.8 C159.1,229.9 161.3,230.7 162.5,232.0 C163.7,233.3 164.9,236.2 164.5,237.5 C164.1,238.8 162.2,240.2 160.0,240.0 C157.8,239.8 152.7,237.4 151.5,236.0 Z" fill="#46423f"/>
<ellipse cx="166.3" cy="247.6" rx="10.6" ry="9.3" transform="rotate(-28 166.3 247.6)" fill="#c48f88"/>
<ellipse cx="165.4" cy="248.4" rx="7.6" ry="6.5" transform="rotate(-28 165.4 248.4)" fill="#d3a29a"/>
<circle cx="134.4" cy="250.6" r="2.3" fill="#151515"/><circle cx="133.8" cy="249.9" r="0.6" fill="#777"/>
<ellipse cx="111.2" cy="257.6" rx="1.9" ry="2.2" fill="#cf9c98"/>
<path d="M112,254 L101,242 M112.5,253.5 L104.5,241.5 M113,253 L108,243.5 M111.5,255 L100.5,247" stroke="#bdbdbd" stroke-width="0.6" fill="none"/>
<path d="M120,258.5 L140,262 M122,261 L134,266" stroke="#3a3735" stroke-width="0.5" fill="none" opacity="0.7"/>
<line x1="109.6" y1="259" x2="63.6" y2="441" stroke="#dbc9c2" stroke-width="4.6" stroke-dasharray="9 10.95"/>
<line x1="127" y1="260.6" x2="202.6" y2="435.4" stroke="#dbc9c2" stroke-width="4.6" stroke-dasharray="10 10"/>
<g transform="translate(229,287.4) rotate(41.9)" stroke-linejoin="round"><line x1="0" y1="0" x2="30" y2="0" stroke="#2f6c8d" stroke-width="1.3"/><path d="M28,-2.6 L33.5,-4 L33.5,4 L28,2.6 Z" fill="#fff" stroke="#2f6c8d" stroke-width="1.4"/><rect x="33.5" y="-7" width="55" height="14" rx="1.8" fill="#fff" stroke="#2f6c8d" stroke-width="1.9"/><rect x="38.5" y="-4.4" width="22" height="8.8" rx="1.2" fill="#3597d9"/><path d="M65,6.6 v-5.6 M69.6,6.6 v-5.6 M74.2,6.6 v-5.6 M78.8,6.6 v-5.6 M83.4,6.6 v-5.6" stroke="#2f6c8d" stroke-width="1.4"/><line x1="89.3" y1="-9.2" x2="89.3" y2="9.2" stroke="#2f6c8d" stroke-width="2.8" stroke-linecap="round"/><line x1="90" y1="0" x2="102.5" y2="0" stroke="#2f6c8d" stroke-width="2.6"/><line x1="103" y1="-7.6" x2="103" y2="7.6" stroke="#2f6c8d" stroke-width="3" stroke-linecap="round"/></g>
<path d="M123.5,460.0 C119.6,462.5 123.8,470.0 123.5,475.0 C123.2,480.0 123.2,485.8 122.0,490.0 C120.8,494.2 118.3,496.7 116.0,500.0 C113.7,503.3 110.0,506.5 108.0,510.0 C106.0,513.5 103.3,518.0 104.0,521.0 C104.7,524.0 106.8,526.5 112.0,528.0 C117.2,529.5 127.3,530.0 135.0,530.0 C142.7,530.0 152.8,529.5 158.0,528.0 C163.2,526.5 165.3,524.0 166.0,521.0 C166.7,518.0 164.0,513.5 162.0,510.0 C160.0,506.5 156.2,503.3 154.0,500.0 C151.8,496.7 149.7,494.2 148.5,490.0 C147.3,485.8 147.2,480.0 147.0,475.0 C146.8,470.0 150.9,462.5 147.0,460.0 C143.1,457.5 127.4,457.5 123.5,460.0 Z" fill="#dfbab6" stroke="#c9908d" stroke-width="1"/>
<rect x="118" y="455" width="34" height="42" fill="url(#stemfade)"/>
<path d="M135.6,477 L135.6,493" stroke="#f3e4e1" stroke-width="1.6" stroke-linecap="round"/>
<path d="M113.5,694.0 C111.3,697.0 114.0,703.5 115.0,708.0 C116.0,712.5 117.8,717.5 119.5,721.0 C121.2,724.5 123.5,727.8 125.5,729.0 C127.5,730.2 129.9,730.0 131.5,728.5 C133.1,727.0 134.6,724.8 135.3,720.0 C136.1,715.2 137.2,705.0 136.0,700.0 C134.8,695.0 131.8,691.0 128.0,690.0 C124.2,689.0 115.7,691.0 113.5,694.0 Z" fill="#dfbab6" stroke="#c9908d" stroke-width="1"/>
<path d="M157.5,694.0 C159.7,697.0 157.0,703.5 156.0,708.0 C155.0,712.5 153.2,717.5 151.5,721.0 C149.8,724.5 147.5,727.8 145.5,729.0 C143.5,730.2 141.1,730.0 139.5,728.5 C137.9,727.0 136.4,724.8 135.7,720.0 C134.9,715.2 133.8,705.0 135.0,700.0 C136.2,695.0 139.2,691.0 143.0,690.0 C146.8,689.0 155.3,691.0 157.5,694.0 Z" fill="#dfbab6" stroke="#c9908d" stroke-width="1"/>
<path d="M81.0,548.0 C80.8,543.8 81.2,539.0 83.0,535.0 C84.8,531.0 88.2,526.8 92.0,524.0 C95.8,521.2 101.3,519.7 106.0,518.5 C110.7,517.3 115.2,517.1 120.0,517.0 C124.8,516.9 130.0,518.0 135.0,518.0 C140.0,518.0 145.2,516.9 150.0,517.0 C154.8,517.1 159.3,517.3 164.0,518.5 C168.7,519.7 174.2,521.2 178.0,524.0 C181.8,526.8 185.2,531.0 187.0,535.0 C188.8,539.0 189.2,543.8 189.0,548.0 C188.8,552.2 188.0,556.2 186.0,560.0 C184.0,563.8 181.3,568.1 177.0,571.0 C172.7,573.9 167.0,576.2 160.0,577.5 C153.0,578.8 143.3,579.0 135.0,579.0 C126.7,579.0 117.0,578.8 110.0,577.5 C103.0,576.2 97.3,573.9 93.0,571.0 C88.7,568.1 86.0,563.8 84.0,560.0 C82.0,556.2 81.2,552.2 81.0,548.0 Z" fill="#dfbab6" stroke="#c9908d" stroke-width="1.1"/>
<path d="M113.0,536.0 C113.3,532.0 118.3,526.5 122.0,524.0 C125.7,521.5 130.7,521.0 135.0,521.0 C139.3,521.0 144.3,521.5 148.0,524.0 C151.7,526.5 156.7,532.0 157.0,536.0 C157.3,540.0 153.7,545.3 150.0,548.0 C146.3,550.7 140.0,552.0 135.0,552.0 C130.0,552.0 123.7,550.7 120.0,548.0 C116.3,545.3 112.7,540.0 113.0,536.0 Z" fill="#d9b1ad" stroke="#c9908d" stroke-width="0.9"/>
<path d="M118,538 Q135,526 152,538 M121,544 Q135,534 149,544" fill="none" stroke="#ead0cc" stroke-width="1.6" stroke-linecap="round"/>
<path d="M113,536 Q100,528 90,536 M157,536 Q170,528 180,536" fill="none" stroke="#c9908d" stroke-width="0.9"/>
<path d="M91,556 Q96,548 101,544" fill="none" stroke="#f1e0dd" stroke-width="2" stroke-linecap="round"/>
<ellipse cx="135.5" cy="592" rx="15" ry="22" fill="#d9b1ad"/>
<circle cx="122.8" cy="568.5" r="12.8" fill="#dfbab6" stroke="#c9908d" stroke-width="0.9"/>
<circle cx="148.2" cy="568.5" r="12.8" fill="#dfbab6" stroke="#c9908d" stroke-width="0.9"/>
<ellipse cx="135.5" cy="558.5" rx="8" ry="5" fill="#dfbab6" stroke="#c9908d" stroke-width="0.8"/>
<path d="M133.5,602.0 C135.0,610.5 135.4,627.0 135.8,640.0 C136.2,653.0 136.4,669.7 136.2,680.0 C136.0,690.3 135.6,696.8 134.5,702.0 C133.4,707.2 131.8,709.8 129.5,711.5 C127.2,713.2 124.6,713.6 121.0,712.0 C117.4,710.4 112.5,706.5 108.0,702.0 C103.5,697.5 98.7,691.8 94.0,685.0 C89.3,678.2 83.9,669.2 80.0,661.0 C76.1,652.8 72.6,644.5 70.5,636.0 C68.4,627.5 67.1,617.5 67.3,610.0 C67.5,602.5 68.7,596.0 71.5,591.0 C74.3,586.0 79.2,582.6 84.0,580.3 C88.8,578.0 94.7,577.3 100.0,577.3 C105.3,577.3 111.5,578.5 116.0,580.5 C120.5,582.5 124.1,585.4 127.0,589.0 C129.9,592.6 132.0,593.5 133.5,602.0 Z" fill="#d9b1ad" stroke="#c9908d" stroke-width="1.1"/>
<path d="M137.5,602.0 C136.0,610.5 135.6,627.0 135.2,640.0 C134.8,653.0 134.6,669.7 134.8,680.0 C135.0,690.3 135.4,696.8 136.5,702.0 C137.6,707.2 139.2,709.8 141.5,711.5 C143.8,713.2 146.4,713.6 150.0,712.0 C153.6,710.4 158.5,706.5 163.0,702.0 C167.5,697.5 172.3,691.8 177.0,685.0 C181.7,678.2 187.1,669.2 191.0,661.0 C194.9,652.8 198.4,644.5 200.5,636.0 C202.6,627.5 203.9,617.5 203.7,610.0 C203.5,602.5 202.3,596.0 199.5,591.0 C196.7,586.0 191.8,582.6 187.0,580.3 C182.2,578.0 176.3,577.3 171.0,577.3 C165.7,577.3 159.5,578.5 155.0,580.5 C150.5,582.5 146.9,585.4 144.0,589.0 C141.1,592.6 139.0,593.5 137.5,602.0 Z" fill="#d9b1ad" stroke="#c9908d" stroke-width="1.1"/>
<path d="M127,650 Q129,670 128,690" fill="none" stroke="#ecd6d2" stroke-width="2" stroke-linecap="round"/>
<clipPath id="rhc"><path d="M137.5,602.0 C136.0,610.5 135.6,627.0 135.2,640.0 C134.8,653.0 134.6,669.7 134.8,680.0 C135.0,690.3 135.4,696.8 136.5,702.0 C137.6,707.2 139.2,709.8 141.5,711.5 C143.8,713.2 146.4,713.6 150.0,712.0 C153.6,710.4 158.5,706.5 163.0,702.0 C167.5,697.5 172.3,691.8 177.0,685.0 C181.7,678.2 187.1,669.2 191.0,661.0 C194.9,652.8 198.4,644.5 200.5,636.0 C202.6,627.5 203.9,617.5 203.7,610.0 C203.5,602.5 202.3,596.0 199.5,591.0 C196.7,586.0 191.8,582.6 187.0,580.3 C182.2,578.0 176.3,577.3 171.0,577.3 C165.7,577.3 159.5,578.5 155.0,580.5 C150.5,582.5 146.9,585.4 144.0,589.0 C141.1,592.6 139.0,593.5 137.5,602.0 Z"/></clipPath>
<g clip-path="url(#rhc)"><ellipse cx="165.5" cy="638" rx="38" ry="47" fill="url(#isch)"/></g>
<circle cx="160.5" cy="609" r="3.6" fill="#f0a050" opacity="0.35"/><circle cx="160.5" cy="609" r="2.2" fill="#f29a2c"/>
<circle cx="179" cy="615" r="3.6" fill="#f0a050" opacity="0.35"/><circle cx="179" cy="615" r="2.2" fill="#f29a2c"/>
<circle cx="179" cy="641" r="3.6" fill="#f0a050" opacity="0.35"/><circle cx="179" cy="641" r="2.2" fill="#f29a2c"/>
<circle cx="164" cy="663" r="3.6" fill="#f0a050" opacity="0.35"/><circle cx="164" cy="663" r="2.2" fill="#f29a2c"/>
<circle cx="160" cy="636" r="3.6" fill="#f0a050" opacity="0.35"/><circle cx="160" cy="636" r="2.2" fill="#f29a2c"/>
<circle cx="350.9" cy="444" r="24.4" fill="#ea981d"/><circle cx="349.09" cy="441.63" r="21.75" fill="#f7a92f"/><ellipse cx="339.33" cy="430.34" rx="5.72" ry="3.49" transform="rotate(-24 339.33 430.34)" fill="#fac66e"/><text x="335.90" y="450.84" font-size="18.24" font-weight="bold" fill="#fffdf5" textLength="30.4" lengthAdjust="spacingAndGlyphs">H<tspan font-size="10.58" dy="3.10">2</tspan><tspan dy="-3.10">S</tspan></text>
<circle cx="295.2" cy="538.3" r="19.8" fill="#ea981d"/><circle cx="293.73" cy="536.38" r="17.65" fill="#f7a92f"/><ellipse cx="285.81" cy="527.21" rx="4.64" ry="2.83" transform="rotate(-24 285.81 527.21)" fill="#fac66e"/><text x="282.75" y="543.99" font-size="15.18" font-weight="bold" fill="#fffdf5" textLength="25.3" lengthAdjust="spacingAndGlyphs">H<tspan font-size="8.80" dy="2.58">2</tspan><tspan dy="-2.58">S</tspan></text>
<circle cx="239.8" cy="634" r="17.8" fill="#ea981d"/><circle cx="238.48" cy="632.27" r="15.87" fill="#f7a92f"/><ellipse cx="231.36" cy="624.03" rx="4.17" ry="2.54" transform="rotate(-24 231.36 624.03)" fill="#fac66e"/><text x="230.60" y="638.23" font-size="11.28" font-weight="bold" fill="#fffdf5" textLength="18.8" lengthAdjust="spacingAndGlyphs">H<tspan font-size="6.54" dy="1.92">2</tspan><tspan dy="-1.92">S</tspan></text>
<circle cx="213.8" cy="716" r="16.7" fill="#1a5b9f"/><circle cx="213.8" cy="716" r="15.75" fill="#1680c2"/><circle cx="212.85" cy="714.41" r="14.16" fill="#0f9ad6"/><circle cx="210.21" cy="706.06" r="2.43" fill="#4cb8e8" opacity="0.85"/><text x="203.15" y="718.91" font-size="11.89" fill="#eaf8ff" textLength="20.5" lengthAdjust="spacingAndGlyphs">Zn<tspan font-size="7.13" dy="-4.99">2+</tspan></text>
<circle cx="259" cy="760" r="21.5" fill="#1a5b9f"/><circle cx="259" cy="760" r="20.28" fill="#1680c2"/><circle cx="257.78" cy="757.96" r="18.23" fill="#0f9ad6"/><circle cx="254.37" cy="747.21" r="3.13" fill="#4cb8e8" opacity="0.85"/><text x="244.75" y="763.94" font-size="16.07" fill="#eaf8ff" textLength="27.7" lengthAdjust="spacingAndGlyphs">Zn<tspan font-size="9.64" dy="-6.75">2+</tspan></text>
<circle cx="308" cy="805" r="23" fill="#1a5b9f"/><circle cx="308" cy="805" r="21.69" fill="#1680c2"/><circle cx="306.69" cy="802.82" r="19.51" fill="#0f9ad6"/><circle cx="303.05" cy="791.32" r="3.35" fill="#4cb8e8" opacity="0.85"/><text x="291.35" y="809.62" font-size="18.85" fill="#eaf8ff" textLength="32.5" lengthAdjust="spacingAndGlyphs">Zn<tspan font-size="11.31" dy="-7.92">2+</tspan></text>
<rect x="391.6" y="201.5" width="44" height="154.6" fill="#f1ddf8" stroke="#8a3a9a" stroke-width="2.5"/>
<text transform="translate(408.6,206.2) rotate(90)" font-size="21" font-weight="bold" fill="#111" textLength="144.6" lengthAdjust="spacingAndGlyphs">Neuroprotection</text>
<rect x="390.6" y="425.2" width="43.9" height="212.5" fill="#e4f2dd" stroke="#3b6c2b" stroke-width="2.5"/>
<text transform="translate(406.7,434.8) rotate(90)" font-size="21" font-weight="bold" fill="#111" textLength="194.5" lengthAdjust="spacingAndGlyphs">Microglia Polarization</text>
<rect x="390.6" y="691.6" width="43.9" height="131.8" fill="#f8d9ee" stroke="#a83c7a" stroke-width="2.5"/>
<text transform="translate(406.8,697.6) rotate(90)" font-size="21" font-weight="bold" fill="#111" textLength="119.6" lengthAdjust="spacingAndGlyphs">Angiogeensis</text>
<text x="176.2" y="155.8" font-size="16.8" fill="#1a1a1a" stroke="#1a1a1a" stroke-width="0.28" font-weight="normal" textLength="39.1" lengthAdjust="spacingAndGlyphs" >ZnCl<tspan font-size="11" dy="2.5">2</tspan></text>
<text x="152.0" y="196.6" font-size="22.7" fill="#1a1a1a" stroke="#1a1a1a" stroke-width="0.34" font-weight="normal" textLength="91.9" lengthAdjust="spacingAndGlyphs" >OM+ODE</text>
<text transform="translate(277.2,75.4) rotate(-64.8)" font-size="16.6" fill="#1a1a1a" stroke="#1a1a1a" stroke-width="0.28" textLength="69.4" lengthAdjust="spacingAndGlyphs">S Powder</text>
<text x="324.3" y="93.4" font-size="23.0" fill="#1a1a1a" stroke="#1a1a1a" stroke-width="0.34" font-weight="normal" textLength="152.0" lengthAdjust="spacingAndGlyphs" xml:space="preserve">260 °C  10 min</text>
<text x="562.9" y="194.0" font-size="22.7" fill="#1a1a1a" stroke="#1a1a1a" stroke-width="0.34" font-weight="normal" textLength="87.9" lengthAdjust="spacingAndGlyphs" >ZnS NPs</text>
<text x="730.8" y="147.2" font-size="22.7" fill="#1a1a1a" stroke="#1a1a1a" stroke-width="0.34" font-weight="normal" textLength="104.8" lengthAdjust="spacingAndGlyphs" >DSPE-PEG</text>
<text x="971.4" y="194.0" font-size="22.7" fill="#1a1a1a" stroke="#1a1a1a" stroke-width="0.34" font-weight="normal" textLength="138.4" lengthAdjust="spacingAndGlyphs" >ZnS-PEG NPs</text>
<text x="216.0" y="396.2" font-size="22.8" fill="#1a1a1a" stroke="#1a1a1a" stroke-width="0.34" font-weight="normal" textLength="122.4" lengthAdjust="spacingAndGlyphs" >i.p. injection</text>
<text x="91.2" y="431.8" font-size="20.3" fill="#1a1a1a" stroke="#1a1a1a" stroke-width="0.34" font-weight="normal" textLength="76.8" lengthAdjust="spacingAndGlyphs" >MCAO/R</text>
<text x="73.0" y="792.2" font-size="21.2" fill="#1a1a1a" stroke="#1a1a1a" stroke-width="0.34" font-weight="normal" textLength="149.0" lengthAdjust="spacingAndGlyphs" >Ischemic Stroke</text>
<polygon fill="url(#ha1)" points="302.5,114.8 479.4,114.1 479.4,106.8 500.8,117.5 479.4,128.2 479.4,120.9 302.5,120.2"/>
<polygon fill="url(#ha2)" points="696.3,108.8 860.2,108.0 860.2,101.0 881.8,111.5 860.2,122.0 860.2,115.0 696.3,114.2"/>
<text x="455.6" y="332.2" font-size="16.6" fill="#1a1a1a" stroke="#1a1a1a" stroke-width="0.28" font-weight="normal" textLength="83.9" lengthAdjust="spacingAndGlyphs" >Live neuron</text>
<circle cx="595.4" cy="245.2" r="17.7" fill="#ea981d"/><circle cx="594.09" cy="243.48" r="15.78" fill="#f7a92f"/><ellipse cx="587.01" cy="235.29" rx="4.15" ry="2.53" transform="rotate(-24 587.01 235.29)" fill="#fac66e"/><text x="586.05" y="249.50" font-size="11.46" font-weight="bold" fill="#fffdf5" textLength="19.1" lengthAdjust="spacingAndGlyphs">H<tspan font-size="6.65" dy="1.95">2</tspan><tspan dy="-1.95">S</tspan></text>
<polygon fill="url(#ha3)" points="556.0,274.5 623.3,273.6 623.3,269.2 635.7,275.0 623.3,280.8 623.3,276.4 556.0,275.5"/>
<rect x="657.4" y="255.4" width="73.9" height="36.4" rx="6" fill="#f2dab9" stroke="#a15a2b" stroke-width="2.6"/>
<text x="677.9" y="278.5" font-size="18.5" fill="#1a1a1a" stroke="#1a1a1a" stroke-width="0.28" font-weight="normal" textLength="33.4" lengthAdjust="spacingAndGlyphs" >ROS</text>
<polygon fill="url(#va4)" points="740.4,252.7 739.6,296.1 734.6,296.1 740.8,307.9 747.0,296.1 742.0,296.1 741.2,252.7"/>
<rect x="764.7" y="255.5" width="65.8" height="35.8" rx="6.5" fill="#edf2fb" stroke="#93abe2" stroke-width="2.5"/>
<text x="778.0" y="278.8" font-size="18.5" fill="#1a1a1a" stroke="#1a1a1a" stroke-width="0.28" font-weight="normal" textLength="39.3" lengthAdjust="spacingAndGlyphs" >MDA</text>
<polygon fill="url(#va5)" points="837.7,252.7 836.9,296.1 831.9,296.1 838.1,307.9 844.3,296.1 839.3,296.1 838.5,252.7"/>
<rect x="864.3000000000001" y="253.5" width="66.1" height="39.7" rx="6.5" fill="#d6ede7" stroke="#2b6b5d" stroke-width="2.9"/>
<text x="881.3" y="278.8" font-size="18.5" fill="#1a1a1a" stroke="#1a1a1a" stroke-width="0.28" font-weight="normal" textLength="32.0" lengthAdjust="spacingAndGlyphs" >GPx</text>
<polygon fill="url(#va6)" points="938.8,300.7 938.0,256.7 933.1,256.7 939.2,244.7 945.3,256.7 940.4,256.7 939.6,300.7"/>
<text x="964.5" y="258.7" font-size="18.6" fill="#1a1a1a" stroke="#1a1a1a" stroke-width="0.28" font-weight="normal" textLength="79.5" lengthAdjust="spacingAndGlyphs" >apoptosis</text>
<polygon fill="url(#tb7)" points="951.0,275.8 1052.2,274.9 1052.2,277.5 951.0,276.6"/>
<rect x="1050.9" y="268.8" width="2.6" height="14.8" fill="#8d3e9d"/>
<text x="1071.0" y="327.2" font-size="16.6" fill="#1a1a1a" stroke="#1a1a1a" stroke-width="0.28" font-weight="normal" textLength="105.2" lengthAdjust="spacingAndGlyphs" >Injured neuron</text>
<polygon points="905,365.1 1055.6,310.2 1056.4,312.6 905.4,366.8" fill="url(#dg8)"/>
<line x1="1053.2" y1="304.6" x2="1058.8" y2="318.2" stroke="#8d3e9d" stroke-width="2.6"/>
<circle cx="593.6" cy="382.8" r="17.8" fill="#ea981d"/><circle cx="592.28" cy="381.07" r="15.87" fill="#f7a92f"/><ellipse cx="585.16" cy="372.83" rx="4.17" ry="2.54" transform="rotate(-24 585.16 372.83)" fill="#fac66e"/><text x="584.25" y="387.10" font-size="11.46" font-weight="bold" fill="#fffdf5" textLength="19.1" lengthAdjust="spacingAndGlyphs">H<tspan font-size="6.65" dy="1.95">2</tspan><tspan dy="-1.95">S</tspan></text>
<polygon fill="url(#ha9)" points="553.0,411.1 629.3,410.2 629.3,405.6 641.9,411.6 629.3,417.6 629.3,413.0 553.0,412.1"/>
<text x="658.6" y="460.0" font-size="19" fill="#1a1a1a" stroke="#1a1a1a" stroke-width="0.28" font-weight="normal" textLength="66.1" lengthAdjust="spacingAndGlyphs" >p-AMPK</text>
<text x="730.8" y="390.9" font-size="18.6" fill="#1a1a1a" stroke="#1a1a1a" stroke-width="0.28" font-weight="normal" textLength="95.8" lengthAdjust="spacingAndGlyphs" >Polarization</text>
<polygon fill="url(#ha10)" points="741.7,407.5 802.1,406.6 802.1,402.0 814.3,408.0 802.1,414.0 802.1,409.4 741.7,408.5"/>
<polygon fill="url(#va11)" points="879.9,382.8 879.1,424.5 874.1,424.5 880.3,436.3 886.5,424.5 881.5,424.5 880.7,382.8"/>
<text x="842.4" y="459.7" font-size="19" fill="#1a1a1a" stroke="#1a1a1a" stroke-width="0.28" font-weight="normal" textLength="22.8" lengthAdjust="spacingAndGlyphs" >M1</text>
<text x="914.0" y="459.7" font-size="19" fill="#1a1a1a" stroke="#1a1a1a" stroke-width="0.28" font-weight="normal" textLength="24.8" lengthAdjust="spacingAndGlyphs" >M2</text>
<polygon fill="url(#va12)" points="957.3,427.0 956.5,385.4 951.6,385.4 957.7,373.4 963.8,385.4 958.9,385.4 958.1,427.0"/>
<circle cx="1015.8" cy="378.4" r="15.6" fill="#1a5b9f"/><circle cx="1015.8" cy="378.4" r="14.71" fill="#1680c2"/><circle cx="1014.91" cy="376.92" r="13.23" fill="#0f9ad6"/><circle cx="1012.44" cy="369.12" r="2.27" fill="#4cb8e8" opacity="0.85"/><text x="1005.55" y="381.20" font-size="11.43" fill="#eaf8ff" textLength="19.7" lengthAdjust="spacingAndGlyphs">Zn<tspan font-size="6.86" dy="-4.80">2+</tspan></text>
<polygon fill="url(#tb13)" points="974.7,404.0 1052.0,403.1 1052.0,405.7 974.7,404.8"/>
<rect x="1050.7" y="397.0" width="2.6" height="14.8" fill="#b3dbae"/>
<rect x="980.1" y="412.7" width="71.6" height="28.6" rx="14.3" fill="#eef2fb" stroke="#93abe2" stroke-width="2.2"/>
<text x="988.0" y="431.5" font-size="19" fill="#1a1a1a" stroke="#1a1a1a" stroke-width="0.28" font-weight="normal" textLength="55.6" lengthAdjust="spacingAndGlyphs" >p-NFkB</text>
<text x="1054.2" y="450.2" font-size="17.6" fill="#1a1a1a" stroke="#1a1a1a" stroke-width="0.28" font-weight="normal" textLength="138.8" lengthAdjust="spacingAndGlyphs" >Pro-inflammatory</text>
<text x="1098.2" y="470.8" font-size="17.6" fill="#1a1a1a" stroke="#1a1a1a" stroke-width="0.28" font-weight="normal" textLength="55.8" lengthAdjust="spacingAndGlyphs" >factors</text>
<rect x="1126.3" y="481" width="2.6" height="31.5" fill="url(#vt14)"/>
<rect x="1120.3" y="511" width="15.2" height="2.6" fill="#b3dbae"/>
<text x="447.6" y="591.5" font-size="16.6" fill="#1a1a1a" stroke="#1a1a1a" stroke-width="0.28" font-weight="normal" textLength="100.7" lengthAdjust="spacingAndGlyphs" >Live microglia</text>
<circle cx="593.4" cy="517.2" r="17.8" fill="#ea981d"/><circle cx="592.08" cy="515.47" r="15.87" fill="#f7a92f"/><ellipse cx="584.96" cy="507.23" rx="4.17" ry="2.54" transform="rotate(-24 584.96 507.23)" fill="#fac66e"/><text x="584.05" y="521.50" font-size="11.46" font-weight="bold" fill="#fffdf5" textLength="19.1" lengthAdjust="spacingAndGlyphs">H<tspan font-size="6.65" dy="1.95">2</tspan><tspan dy="-1.95">S</tspan></text>
<polygon fill="url(#ha15)" points="550.5,542.7 626.1,541.8 626.1,537.2 638.3,543.2 626.1,549.2 626.1,544.6 550.5,543.7"/>
<rect x="654.1" y="525.4" width="77.2" height="35.9" rx="6.5" fill="#f2dab9" stroke="#a15a2b" stroke-width="2.6999999999999997"/>
<text x="676.0" y="547.9" font-size="18.5" fill="#1a1a1a" stroke="#1a1a1a" stroke-width="0.28" font-weight="normal" textLength="34.7" lengthAdjust="spacingAndGlyphs" >ROS</text>
<polygon fill="url(#va16)" points="741.5,515.3 740.7,560.9 735.7,560.9 741.9,572.7 748.1,560.9 743.1,560.9 742.3,515.3"/>
<rect x="763.4" y="523.5" width="75.9" height="36.5" rx="6.5" fill="#edf2fb" stroke="#93abe2" stroke-width="2.5"/>
<text x="782.0" y="547.3" font-size="18.5" fill="#1a1a1a" stroke="#1a1a1a" stroke-width="0.28" font-weight="normal" textLength="39.3" lengthAdjust="spacingAndGlyphs" >MDA</text>
<polygon fill="url(#va17)" points="848.4,516.0 847.6,561.2 842.6,561.2 848.8,573.0 855.0,561.2 850.0,561.2 849.2,516.0"/>
<rect x="872.3000000000001" y="525.5" width="70.9" height="36.1" rx="6.5" fill="#d6ede7" stroke="#2b6b5d" stroke-width="2.9"/>
<text x="892.0" y="547.9" font-size="18.5" fill="#1a1a1a" stroke="#1a1a1a" stroke-width="0.28" font-weight="normal" textLength="31.2" lengthAdjust="spacingAndGlyphs" >GPx</text>
<polygon fill="url(#va18)" points="951.3,562.0 950.5,522.0 945.6,522.0 951.7,510.0 957.8,522.0 952.9,522.0 952.1,562.0"/>
<text x="979.7" y="524.9" font-size="19" fill="#1a1a1a" stroke="#1a1a1a" stroke-width="0.28" font-weight="normal" textLength="80.0" lengthAdjust="spacingAndGlyphs" >apoptosis</text>
<polygon fill="url(#tb19)" points="988.3,541.5 1073.3,540.6 1073.3,543.2 988.3,542.3"/>
<rect x="1072.0" y="534.6" width="2.6" height="14.6" fill="#b3dbae"/>
<text x="1064.9" y="598.8" font-size="16.6" fill="#1a1a1a" stroke="#1a1a1a" stroke-width="0.28" font-weight="normal" textLength="122.1" lengthAdjust="spacingAndGlyphs" >Injured microglia</text>
<circle cx="595.3" cy="628.4" r="17.8" fill="#ea981d"/><circle cx="593.98" cy="626.67" r="15.87" fill="#f7a92f"/><ellipse cx="586.86" cy="618.43" rx="4.17" ry="2.54" transform="rotate(-24 586.86 618.43)" fill="#fac66e"/><text x="585.95" y="632.70" font-size="11.46" font-weight="bold" fill="#fffdf5" textLength="19.1" lengthAdjust="spacingAndGlyphs">H<tspan font-size="6.65" dy="1.95">2</tspan><tspan dy="-1.95">S</tspan></text>
<polygon fill="url(#ha20)" points="550.8,654.5 627.1,653.6 627.1,649.0 639.7,655.0 627.1,661.0 627.1,656.4 550.8,655.5"/>
<text x="677.0" y="680.6" font-size="19" fill="#1a1a1a" stroke="#1a1a1a" stroke-width="0.28" font-weight="normal" textLength="47.6" lengthAdjust="spacingAndGlyphs" >BCL-2</text>
<polygon fill="url(#va21)" points="740.6,667.0 739.8,622.4 734.9,622.4 741.0,610.0 747.1,622.4 742.2,622.4 741.4,667.0"/>
<text x="788.2" y="680.0" font-size="19" fill="#1a1a1a" stroke="#1a1a1a" stroke-width="0.28" font-weight="normal" textLength="33.6" lengthAdjust="spacingAndGlyphs" >BAX</text>
<polygon fill="url(#va22)" points="844.6,613.8 843.8,657.2 838.8,657.2 845.0,669.0 851.2,657.2 846.2,657.2 845.4,613.8"/>
<text x="856.9" y="683.6" font-size="19" fill="#1a1a1a" stroke="#1a1a1a" stroke-width="0.28" font-weight="normal" textLength="101.4" lengthAdjust="spacingAndGlyphs" >C-Caspase 3</text>
<polygon fill="url(#va23)" points="950.7,611.7 949.9,655.2 944.9,655.2 951.1,667.0 957.3,655.2 952.3,655.2 951.5,611.7"/>
<text x="983.0" y="638.5" font-size="19" fill="#1a1a1a" stroke="#1a1a1a" stroke-width="0.28" font-weight="normal" textLength="79.8" lengthAdjust="spacingAndGlyphs" >apoptosis</text>
<polygon points="989.6,657 1128.1,656.1 1128.1,658.7 989.6,657.8" fill="url(#lt24)"/>
<rect x="1125.5" y="619.5" width="2.6" height="39.2" fill="#b3dbae"/>
<rect x="1119" y="618.3" width="15" height="2.6" fill="#b3dbae"/>
<text x="442.3" y="805.8" font-size="16.7" fill="#1a1a1a" stroke="#1a1a1a" stroke-width="0.28" font-weight="normal" textLength="111.0" lengthAdjust="spacingAndGlyphs" >Endothelial cell</text>
<circle cx="597.4" cy="736.3" r="17.6" fill="#ea981d"/><circle cx="596.09" cy="734.59" r="15.69" fill="#f7a92f"/><ellipse cx="589.05" cy="726.44" rx="4.12" ry="2.51" transform="rotate(-24 589.05 726.44)" fill="#fac66e"/><text x="588.05" y="740.60" font-size="11.46" font-weight="bold" fill="#fffdf5" textLength="19.1" lengthAdjust="spacingAndGlyphs">H<tspan font-size="6.65" dy="1.95">2</tspan><tspan dy="-1.95">S</tspan></text>
<circle cx="599" cy="788" r="17" fill="#1a5b9f"/><circle cx="599" cy="788" r="16.03" fill="#1680c2"/><circle cx="598.03" cy="786.39" r="14.42" fill="#0f9ad6"/><circle cx="595.34" cy="777.89" r="2.47" fill="#4cb8e8" opacity="0.85"/><text x="588.30" y="790.93" font-size="11.95" fill="#eaf8ff" textLength="20.6" lengthAdjust="spacingAndGlyphs">Zn<tspan font-size="7.17" dy="-5.02">2+</tspan></text>
<polygon fill="url(#ha25)" points="553.3,759.9 629.8,759.0 629.8,754.6 642.0,760.4 629.8,766.2 629.8,761.8 553.3,760.9"/>
<text x="688.4" y="804.0" font-size="19" fill="#1a1a1a" stroke="#1a1a1a" stroke-width="0.28" font-weight="normal" textLength="48.4" lengthAdjust="spacingAndGlyphs" >p-AKT</text>
<polygon fill="url(#ha26)" points="749.6,760.5 813.6,759.6 813.6,755.2 826.2,761.0 813.6,766.8 813.6,762.4 749.6,761.5"/>
<rect x="845.5" y="717.7" width="76.2" height="40.1" rx="20" fill="#2b857a" stroke="#1f5e55" stroke-width="2.6"/>
<text x="862.7" y="743.7" font-size="18" fill="#fff" stroke="#fff" stroke-width="0.28" font-weight="normal" textLength="42.1" lengthAdjust="spacingAndGlyphs" >VEGF</text>
<rect x="845.5" y="768.3" width="76.2" height="39" rx="19.5" fill="#955624" stroke="#5e3512" stroke-width="2.6"/>
<text x="868.4" y="792.7" font-size="18" fill="#fff" stroke="#fff" stroke-width="0.28" font-weight="normal" textLength="29.6" lengthAdjust="spacingAndGlyphs" >Ang</text>
<text x="940.0" y="744.4" font-size="19" fill="#1a1a1a" stroke="#1a1a1a" stroke-width="0.28" font-weight="normal" textLength="98.2" lengthAdjust="spacingAndGlyphs" >Proliferation</text>
<polygon fill="url(#ha27)" points="952.7,760.5 1029.4,759.6 1029.4,755.2 1042.8,761.0 1029.4,766.8 1029.4,762.4 952.7,761.5"/>
<text x="953.5" y="789.7" font-size="19" fill="#1a1a1a" stroke="#1a1a1a" stroke-width="0.28" font-weight="normal" textLength="75.1" lengthAdjust="spacingAndGlyphs" >Migration</text>
<text x="1054.3" y="806.9" font-size="19" fill="#1a1a1a" stroke="#1a1a1a" stroke-width="0.28" font-weight="normal" textLength="116.9" lengthAdjust="spacingAndGlyphs" >Neurovascular</text>
<path d="M489.0,236.0 C489.1,237.6 489.3,242.4 489.8,245.6 C490.3,248.8 491.5,252.5 492.2,255.0 C492.9,257.5 493.8,259.8 494.1,260.8" fill="none" stroke="#c98bc5" stroke-width="1.25" stroke-linecap="round" stroke-linejoin="round" />
<path d="M494.1,260.8 C493.0,261.8 489.7,264.4 487.5,266.5 C485.3,268.6 483.3,271.5 480.8,273.1 C478.3,274.7 475.0,276.1 472.3,276.0 C469.6,275.9 466.9,272.9 464.7,272.2 C462.5,271.5 460.6,270.2 459.0,271.8 C457.4,273.4 455.5,280.1 454.8,281.7" fill="none" stroke="#c98bc5" stroke-width="1.25" stroke-linecap="round" stroke-linejoin="round" />
<path d="M472.3,276.0 C471.8,277.6 469.7,281.6 469.4,285.5 C469.1,289.4 470.2,297.3 470.4,299.7" fill="none" stroke="#c98bc5" stroke-width="1.25" stroke-linecap="round" stroke-linejoin="round" />
<path d="M469.4,285.5 C468.0,287.1 463.3,293.2 460.9,295.0 C458.5,296.8 455.8,295.8 454.8,296.0" fill="none" stroke="#c98bc5" stroke-width="1.25" stroke-linecap="round" stroke-linejoin="round" />
<path d="M460.9,295.0 C460.6,295.8 459.3,298.9 459.0,299.7" fill="none" stroke="#c98bc5" stroke-width="1.25" stroke-linecap="round" stroke-linejoin="round" />
<path d="M485.6,268.4 C485.3,270.6 483.2,277.6 484.0,281.7 C484.8,285.8 489.2,291.1 490.3,293.0" fill="none" stroke="#c98bc5" stroke-width="1.25" stroke-linecap="round" stroke-linejoin="round" />
<path d="M484.0,281.7 C483.6,283.0 482.2,288.0 481.8,289.3" fill="none" stroke="#c98bc5" stroke-width="1.25" stroke-linecap="round" stroke-linejoin="round" />
<path d="M494.1,260.8 C495.9,261.3 501.8,262.3 504.6,263.6 C507.5,264.9 509.5,266.8 511.2,268.4 C512.9,270.0 514.2,269.2 515.0,273.1 C515.8,277.0 515.8,288.9 516.0,292.0" fill="none" stroke="#c98bc5" stroke-width="1.25" stroke-linecap="round" stroke-linejoin="round" />
<path d="M515.0,273.1 C516.1,272.5 519.6,270.0 521.7,269.3 C523.8,268.6 525.2,268.7 527.4,268.8 C529.6,268.9 532.3,268.8 535.0,270.0 C537.7,271.2 542.1,275.0 543.5,276.0" fill="none" stroke="#c98bc5" stroke-width="1.25" stroke-linecap="round" stroke-linejoin="round" />
<path d="M527.4,268.8 C528.3,270.0 531.4,273.5 533.0,276.0 C534.6,278.5 536.1,280.8 536.9,283.6 C537.7,286.4 537.6,291.4 537.8,293.0" fill="none" stroke="#c98bc5" stroke-width="1.25" stroke-linecap="round" stroke-linejoin="round" />
<path d="M489.0,236.0 C489.1,237.6 489.3,242.4 489.8,245.6 C490.3,248.8 491.5,252.5 492.2,255.0 C492.9,257.5 493.8,259.8 494.1,260.8" fill="none" stroke="#c98bc5" stroke-width="1.8" stroke-linecap="round" stroke-linejoin="round" />
<path d="M489.0,236.1 C487.9,235.7 484.4,234.9 482.6,233.6 C480.8,232.4 478.8,229.4 478.0,228.5" fill="none" stroke="#c98bc5" stroke-width="1.0" stroke-linecap="round" stroke-linejoin="round" />
<path d="M482.6,233.6 l0.8,-5.3 M482.6,233.6 l-5.3,-0.8" stroke="#c98bc5" stroke-width="0.8" fill="none" stroke-linecap="round"/>
<path d="M489.0,236.1 C488.3,235.3 485.6,233.0 484.6,231.0 C483.6,229.1 483.3,225.6 483.0,224.5" fill="none" stroke="#c98bc5" stroke-width="1.0" stroke-linecap="round" stroke-linejoin="round" />
<path d="M484.6,231.0 l3.1,-4.2 M484.6,231.0 l-4.2,-3.1" stroke="#c98bc5" stroke-width="0.8" fill="none" stroke-linecap="round"/>
<path d="M489.0,236.1 C488.6,235.0 486.9,231.7 486.6,229.4 C486.4,227.1 487.4,223.6 487.5,222.4" fill="none" stroke="#c98bc5" stroke-width="1.0" stroke-linecap="round" stroke-linejoin="round" />
<path d="M486.6,229.4 l4.7,-3.0 M486.6,229.4 l-3.0,-4.7" stroke="#c98bc5" stroke-width="0.8" fill="none" stroke-linecap="round"/>
<path d="M489.0,236.1 C489.1,234.9 488.9,231.3 489.6,229.1 C490.3,227.0 492.6,224.2 493.2,223.2" fill="none" stroke="#c98bc5" stroke-width="1.0" stroke-linecap="round" stroke-linejoin="round" />
<path d="M489.6,229.1 l5.4,-0.8 M489.6,229.1 l-0.8,-5.4" stroke="#c98bc5" stroke-width="0.8" fill="none" stroke-linecap="round"/>
<path d="M489.0,236.1 C489.5,235.0 490.5,231.3 491.9,229.4 C493.3,227.5 496.6,225.6 497.5,224.8" fill="none" stroke="#c98bc5" stroke-width="1.0" stroke-linecap="round" stroke-linejoin="round" />
<path d="M491.9,229.4 l5.6,1.0 M491.9,229.4 l1.0,-5.6" stroke="#c98bc5" stroke-width="0.8" fill="none" stroke-linecap="round"/>
<path d="M489.0,236.1 C489.8,235.2 492.0,232.2 494.0,230.9 C496.0,229.6 499.7,228.9 500.8,228.5" fill="none" stroke="#c98bc5" stroke-width="1.0" stroke-linecap="round" stroke-linejoin="round" />
<path d="M494.0,230.9 l4.8,2.9 M494.0,230.9 l2.9,-4.8" stroke="#c98bc5" stroke-width="0.8" fill="none" stroke-linecap="round"/>
<path d="M489.0,236.1 C490.0,235.8 493.1,234.2 495.2,234.0 C497.3,233.8 500.6,234.8 501.7,235.0" fill="none" stroke="#c98bc5" stroke-width="1.0" stroke-linecap="round" stroke-linejoin="round" />
<path d="M495.2,234.0 l2.7,4.4 M495.2,234.0 l4.4,-2.7" stroke="#c98bc5" stroke-width="0.8" fill="none" stroke-linecap="round"/>
<path d="M489.0,236.1 C489.9,236.3 492.9,236.5 494.5,237.3 C496.2,238.0 498.2,240.2 498.9,240.8" fill="none" stroke="#c98bc5" stroke-width="1.0" stroke-linecap="round" stroke-linejoin="round" />
<path d="M494.5,237.3 l0.1,4.4 M494.5,237.3 l4.4,-0.1" stroke="#c98bc5" stroke-width="0.8" fill="none" stroke-linecap="round"/>
<path d="M489.0,236.1 C488.5,236.9 487.2,239.6 485.8,240.9 C484.5,242.2 481.6,243.2 480.8,243.7" fill="none" stroke="#c98bc5" stroke-width="1.0" stroke-linecap="round" stroke-linejoin="round" />
<path d="M485.8,240.9 l-4.2,-1.6 M485.8,240.9 l-1.6,4.2" stroke="#c98bc5" stroke-width="0.8" fill="none" stroke-linecap="round"/>
<path d="M489.0,236.1 C488.1,236.2 485.5,236.9 483.9,236.8 C482.2,236.6 479.8,235.3 479.0,235.0" fill="none" stroke="#c98bc5" stroke-width="1.0" stroke-linecap="round" stroke-linejoin="round" />
<path d="M483.9,236.8 l-1.4,-3.8 M483.9,236.8 l-3.8,1.4" stroke="#c98bc5" stroke-width="0.8" fill="none" stroke-linecap="round"/>
<circle cx="489" cy="236.1" r="3.3" fill="#c57fc0"/><circle cx="489" cy="236.1" r="1.2" fill="#7d3b8e"/>
<path d="M1131.8,246.8 C1133.0,245.7 1135.7,242.3 1139.3,240.3 C1142.9,238.3 1149.1,236.3 1153.4,234.9 C1157.7,233.5 1161.9,232.7 1165.3,231.7 C1168.7,230.7 1172.5,229.5 1174.0,229.1" fill="none" stroke="#d59bd4" stroke-width="1.7" stroke-linecap="butt" stroke-linejoin="round" stroke-dasharray="2.3 1.3"/>
<path d="M1113.3,252.3 C1111.1,251.9 1103.9,251.4 1100.3,250.1 C1096.7,248.8 1093.5,246.9 1091.7,244.7 C1089.9,242.5 1089.9,238.4 1089.5,237.1" fill="none" stroke="#d59bd4" stroke-width="1.7" stroke-linecap="butt" stroke-linejoin="round" stroke-dasharray="2.3 1.3"/>
<path d="M1091.7,244.7 C1089.9,244.5 1083.7,244.3 1080.8,243.6 C1077.9,242.9 1075.4,240.9 1074.3,240.3" fill="none" stroke="#d59bd4" stroke-width="1.7" stroke-linecap="butt" stroke-linejoin="round" stroke-dasharray="2.3 1.3"/>
<path d="M1104.7,252.3 C1102.5,252.8 1095.3,254.8 1091.7,255.5 C1088.1,256.2 1085.9,256.5 1083.0,256.6 C1080.1,256.7 1075.8,256.1 1074.3,256.0" fill="none" stroke="#d59bd4" stroke-width="1.7" stroke-linecap="butt" stroke-linejoin="round" stroke-dasharray="2.3 1.3"/>
<path d="M1083.0,256.6 C1083.4,257.7 1084.3,261.5 1085.2,263.1 C1086.1,264.7 1087.9,265.8 1088.4,266.3" fill="none" stroke="#d59bd4" stroke-width="1.7" stroke-linecap="butt" stroke-linejoin="round" stroke-dasharray="2.3 1.3"/>
<path d="M1130.7,256.6 C1130.9,258.2 1132.2,262.5 1131.8,266.3 C1131.4,270.1 1130.1,275.9 1128.5,279.3 C1126.9,282.7 1124.5,284.5 1122.0,286.9 C1119.5,289.2 1116.4,291.0 1113.3,293.4 C1110.2,295.8 1105.2,299.7 1103.6,301.0" fill="none" stroke="#d59bd4" stroke-width="1.7" stroke-linecap="butt" stroke-linejoin="round" stroke-dasharray="2.3 1.3"/>
<path d="M1119.8,290.2 C1120.9,290.7 1124.1,292.0 1126.3,293.4 C1128.5,294.8 1131.7,297.9 1132.8,298.8" fill="none" stroke="#d59bd4" stroke-width="1.7" stroke-linecap="butt" stroke-linejoin="round" stroke-dasharray="2.3 1.3"/>
<path d="M1123.0,252.3 C1121.4,252.3 1116.5,252.5 1113.3,252.3 C1110.1,252.1 1105.5,251.4 1104.0,251.2" fill="none" stroke="#d59bd4" stroke-width="2.4" stroke-linecap="round" stroke-linejoin="round" />
<path d="M1124.0,250.0 C1125.3,249.5 1129.5,248.2 1131.8,246.8 C1134.1,245.4 1137.0,242.4 1138.0,241.5" fill="none" stroke="#d59bd4" stroke-width="2.6" stroke-linecap="round" stroke-linejoin="round" />
<path d="M1128.0,254.0 C1128.5,254.4 1130.1,255.3 1130.7,256.6 C1131.3,257.9 1131.4,261.1 1131.6,262.0" fill="none" stroke="#d59bd4" stroke-width="2.2" stroke-linecap="round" stroke-linejoin="round" />
<circle cx="1157" cy="229.6" r="0.8" fill="#d59bd4"/>
<circle cx="1168" cy="227.5" r="0.8" fill="#d59bd4"/>
<circle cx="1171.5" cy="232.5" r="0.8" fill="#d59bd4"/>
<circle cx="1160" cy="236.2" r="0.8" fill="#d59bd4"/>
<circle cx="1086" cy="235" r="0.8" fill="#d59bd4"/>
<circle cx="1093" cy="236.8" r="0.8" fill="#d59bd4"/>
<circle cx="1077" cy="243.8" r="0.8" fill="#d59bd4"/>
<circle cx="1079" cy="259.5" r="0.8" fill="#d59bd4"/>
<circle cx="1106" cy="297.2" r="0.8" fill="#d59bd4"/>
<circle cx="1111" cy="299.6" r="0.8" fill="#d59bd4"/>
<circle cx="1134" cy="301.5" r="0.8" fill="#d59bd4"/>
<path d="M1111.5,252.2 C1111.8,251.1 1114.9,249.3 1117.0,248.2 C1119.1,247.1 1122.1,246.7 1124.0,245.8 C1125.9,244.9 1127.2,243.3 1128.5,243.0 C1129.8,242.7 1131.0,243.3 1131.5,244.2 C1132.0,245.1 1131.0,247.1 1131.2,248.5 C1131.5,249.9 1132.8,251.0 1133.0,252.5 C1133.2,254.0 1132.9,256.1 1132.5,257.5 C1132.1,258.9 1131.9,260.2 1130.8,260.6 C1129.7,261.0 1127.9,260.1 1126.0,259.6 C1124.1,259.1 1121.3,258.7 1119.5,257.8 C1117.7,256.9 1116.3,255.4 1115.0,254.5 C1113.7,253.6 1111.2,253.2 1111.5,252.2 Z" fill="#dba2da"/>
<ellipse cx="1123.4" cy="252.6" rx="6.2" ry="3.9" transform="rotate(8 1123.4 252.6)" fill="#bd84c6"/>
<path d="M498.5,522.0 C498.7,519.8 499.6,513.0 499.6,509.0 C499.6,505.0 497.8,501.4 498.5,498.2 C499.2,494.9 501.7,492.0 503.9,489.5 C506.1,487.0 509.7,485.2 511.5,483.0 C513.3,480.8 514.2,477.6 514.8,476.5" fill="none" stroke="#a3d4a8" stroke-width="2.6" stroke-linecap="round" stroke-linejoin="round" />
<path d="M498.5,498.2 C497.4,499.3 494.4,504.0 492.0,504.7 C489.6,505.4 485.7,502.9 484.4,502.5" fill="none" stroke="#a3d4a8" stroke-width="2.6" stroke-linecap="round" stroke-linejoin="round" />
<path d="M503.9,489.5 C503.0,488.4 500.3,484.4 498.5,483.0 C496.7,481.6 493.9,481.2 493.0,480.8" fill="none" stroke="#a3d4a8" stroke-width="2.6" stroke-linecap="round" stroke-linejoin="round" />
<path d="M502.8,497.0 C504.2,497.2 509.2,498.6 511.5,498.2 C513.8,497.8 515.5,494.9 516.3,494.3" fill="none" stroke="#a3d4a8" stroke-width="2.6" stroke-linecap="round" stroke-linejoin="round" />
<path d="M493.0,525.3 C491.4,524.9 486.0,524.1 483.3,523.0 C480.6,521.9 478.2,521.1 476.8,518.8 C475.4,516.5 476.3,512.1 474.7,509.0 C473.1,505.9 468.3,501.8 467.0,500.3" fill="none" stroke="#a3d4a8" stroke-width="2.6" stroke-linecap="round" stroke-linejoin="round" />
<path d="M474.7,509.0 C473.4,509.4 468.3,510.8 467.0,511.2" fill="none" stroke="#a3d4a8" stroke-width="2.6" stroke-linecap="round" stroke-linejoin="round" />
<path d="M476.8,518.8 C475.0,519.7 470.0,523.8 466.0,524.2 C462.0,524.6 455.2,521.5 453.0,521.0" fill="none" stroke="#a3d4a8" stroke-width="2.6" stroke-linecap="round" stroke-linejoin="round" />
<path d="M466.0,524.2 C465.3,526.9 462.4,537.7 461.7,540.4" fill="none" stroke="#a3d4a8" stroke-width="2.6" stroke-linecap="round" stroke-linejoin="round" />
<path d="M494.2,534.0 C492.9,535.2 490.2,539.9 486.6,541.5 C483.0,543.1 474.9,543.3 472.5,543.7" fill="none" stroke="#a3d4a8" stroke-width="2.6" stroke-linecap="round" stroke-linejoin="round" />
<path d="M486.6,541.5 C487.3,543.5 490.3,551.4 491.0,553.4" fill="none" stroke="#a3d4a8" stroke-width="2.6" stroke-linecap="round" stroke-linejoin="round" />
<path d="M500.7,535.0 C501.4,536.8 505.0,542.2 505.0,545.8 C505.0,549.4 502.1,553.5 500.7,556.7 C499.2,560.0 497.0,563.9 496.3,565.3" fill="none" stroke="#a3d4a8" stroke-width="2.6" stroke-linecap="round" stroke-linejoin="round" />
<path d="M505.0,545.8 C507.5,545.4 515.5,544.1 520.2,543.7 C524.9,543.4 531.0,543.7 533.2,543.7" fill="none" stroke="#a3d4a8" stroke-width="2.6" stroke-linecap="round" stroke-linejoin="round" />
<path d="M520.2,543.7 C521.3,545.0 525.6,550.0 526.7,551.3" fill="none" stroke="#a3d4a8" stroke-width="2.6" stroke-linecap="round" stroke-linejoin="round" />
<path d="M513.7,544.8 C513.7,546.0 514.6,550.0 513.7,552.3 C512.8,554.6 509.2,557.7 508.3,558.8" fill="none" stroke="#a3d4a8" stroke-width="2.6" stroke-linecap="round" stroke-linejoin="round" />
<path d="M513.7,552.3 C514.4,553.5 517.3,558.1 518.0,559.3" fill="none" stroke="#a3d4a8" stroke-width="2.6" stroke-linecap="round" stroke-linejoin="round" />
<path d="M505.0,526.3 C506.4,525.9 510.6,524.8 513.7,524.2 C516.8,523.7 520.5,524.1 523.4,523.0 C526.3,521.9 529.7,518.6 531.0,517.7" fill="none" stroke="#a3d4a8" stroke-width="2.6" stroke-linecap="round" stroke-linejoin="round" />
<path d="M513.7,524.2 C514.2,522.2 516.5,514.3 517.0,512.3" fill="none" stroke="#a3d4a8" stroke-width="2.6" stroke-linecap="round" stroke-linejoin="round" />
<path d="M523.4,523.0 C524.5,523.4 528.9,524.9 530.0,525.3" fill="none" stroke="#a3d4a8" stroke-width="2.6" stroke-linecap="round" stroke-linejoin="round" />
<path d="M491.0,521.0 C492.3,519.1 494.7,518.7 497.0,518.5 C499.3,518.3 503.0,518.8 505.0,520.0 C507.0,521.2 508.7,523.3 509.0,525.5 C509.3,527.7 508.3,531.0 507.0,533.0 C505.7,535.0 503.2,537.0 501.0,537.5 C498.8,538.0 496.0,537.2 494.0,536.0 C492.0,534.8 489.5,532.5 489.0,530.0 C488.5,527.5 489.7,522.9 491.0,521.0 Z" fill="#a3d4a8" stroke="#a3d4a8" stroke-width="1.6"/>
<path d="M498.5,522.0 C498.7,519.8 499.6,513.0 499.6,509.0 C499.6,505.0 497.8,501.4 498.5,498.2 C499.2,494.9 501.7,492.0 503.9,489.5 C506.1,487.0 509.7,485.2 511.5,483.0 C513.3,480.8 514.2,477.6 514.8,476.5" fill="none" stroke="#cbeacb" stroke-width="1.3" stroke-linecap="round" stroke-linejoin="round" />
<path d="M498.5,498.2 C497.4,499.3 494.4,504.0 492.0,504.7 C489.6,505.4 485.7,502.9 484.4,502.5" fill="none" stroke="#cbeacb" stroke-width="1.3" stroke-linecap="round" stroke-linejoin="round" />
<path d="M503.9,489.5 C503.0,488.4 500.3,484.4 498.5,483.0 C496.7,481.6 493.9,481.2 493.0,480.8" fill="none" stroke="#cbeacb" stroke-width="1.3" stroke-linecap="round" stroke-linejoin="round" />
<path d="M502.8,497.0 C504.2,497.2 509.2,498.6 511.5,498.2 C513.8,497.8 515.5,494.9 516.3,494.3" fill="none" stroke="#cbeacb" stroke-width="1.3" stroke-linecap="round" stroke-linejoin="round" />
<path d="M493.0,525.3 C491.4,524.9 486.0,524.1 483.3,523.0 C480.6,521.9 478.2,521.1 476.8,518.8 C475.4,516.5 476.3,512.1 474.7,509.0 C473.1,505.9 468.3,501.8 467.0,500.3" fill="none" stroke="#cbeacb" stroke-width="1.3" stroke-linecap="round" stroke-linejoin="round" />
<path d="M474.7,509.0 C473.4,509.4 468.3,510.8 467.0,511.2" fill="none" stroke="#cbeacb" stroke-width="1.3" stroke-linecap="round" stroke-linejoin="round" />
<path d="M476.8,518.8 C475.0,519.7 470.0,523.8 466.0,524.2 C462.0,524.6 455.2,521.5 453.0,521.0" fill="none" stroke="#cbeacb" stroke-width="1.3" stroke-linecap="round" stroke-linejoin="round" />
<path d="M466.0,524.2 C465.3,526.9 462.4,537.7 461.7,540.4" fill="none" stroke="#cbeacb" stroke-width="1.3" stroke-linecap="round" stroke-linejoin="round" />
<path d="M494.2,534.0 C492.9,535.2 490.2,539.9 486.6,541.5 C483.0,543.1 474.9,543.3 472.5,543.7" fill="none" stroke="#cbeacb" stroke-width="1.3" stroke-linecap="round" stroke-linejoin="round" />
<path d="M486.6,541.5 C487.3,543.5 490.3,551.4 491.0,553.4" fill="none" stroke="#cbeacb" stroke-width="1.3" stroke-linecap="round" stroke-linejoin="round" />
<path d="M500.7,535.0 C501.4,536.8 505.0,542.2 505.0,545.8 C505.0,549.4 502.1,553.5 500.7,556.7 C499.2,560.0 497.0,563.9 496.3,565.3" fill="none" stroke="#cbeacb" stroke-width="1.3" stroke-linecap="round" stroke-linejoin="round" />
<path d="M505.0,545.8 C507.5,545.4 515.5,544.1 520.2,543.7 C524.9,543.4 531.0,543.7 533.2,543.7" fill="none" stroke="#cbeacb" stroke-width="1.3" stroke-linecap="round" stroke-linejoin="round" />
<path d="M520.2,543.7 C521.3,545.0 525.6,550.0 526.7,551.3" fill="none" stroke="#cbeacb" stroke-width="1.3" stroke-linecap="round" stroke-linejoin="round" />
<path d="M513.7,544.8 C513.7,546.0 514.6,550.0 513.7,552.3 C512.8,554.6 509.2,557.7 508.3,558.8" fill="none" stroke="#cbeacb" stroke-width="1.3" stroke-linecap="round" stroke-linejoin="round" />
<path d="M513.7,552.3 C514.4,553.5 517.3,558.1 518.0,559.3" fill="none" stroke="#cbeacb" stroke-width="1.3" stroke-linecap="round" stroke-linejoin="round" />
<path d="M505.0,526.3 C506.4,525.9 510.6,524.8 513.7,524.2 C516.8,523.7 520.5,524.1 523.4,523.0 C526.3,521.9 529.7,518.6 531.0,517.7" fill="none" stroke="#cbeacb" stroke-width="1.3" stroke-linecap="round" stroke-linejoin="round" />
<path d="M513.7,524.2 C514.2,522.2 516.5,514.3 517.0,512.3" fill="none" stroke="#cbeacb" stroke-width="1.3" stroke-linecap="round" stroke-linejoin="round" />
<path d="M523.4,523.0 C524.5,523.4 528.9,524.9 530.0,525.3" fill="none" stroke="#cbeacb" stroke-width="1.3" stroke-linecap="round" stroke-linejoin="round" />
<path d="M491.0,521.0 C492.3,519.1 494.7,518.7 497.0,518.5 C499.3,518.3 503.0,518.8 505.0,520.0 C507.0,521.2 508.7,523.3 509.0,525.5 C509.3,527.7 508.3,531.0 507.0,533.0 C505.7,535.0 503.2,537.0 501.0,537.5 C498.8,538.0 496.0,537.2 494.0,536.0 C492.0,534.8 489.5,532.5 489.0,530.0 C488.5,527.5 489.7,522.9 491.0,521.0 Z" fill="#cbeacb"/>
<ellipse cx="498.3" cy="527.2" rx="3.8" ry="2.9" transform="rotate(-15 498.3 527.2)" fill="#9fd3a2"/><ellipse cx="498.3" cy="527.2" rx="1.7" ry="1.2" fill="#76bb7c"/>
<path d="M1120.3,544.5 C1119.2,542.5 1116.0,536.2 1113.8,532.7 C1111.6,529.2 1110.5,525.4 1107.2,523.6 C1103.9,521.8 1096.4,522.0 1094.2,521.7" fill="none" stroke="#f0b45e" stroke-width="2.0" stroke-linecap="butt" stroke-linejoin="round" stroke-dasharray="4.2 0.8"/>
<path d="M1113.8,532.7 C1112.3,534.0 1106.1,539.2 1104.6,540.5" fill="none" stroke="#f0b45e" stroke-width="2.0" stroke-linecap="butt" stroke-linejoin="round" stroke-dasharray="4.2 0.8"/>
<path d="M1137.3,545.8 C1138.4,544.3 1142.1,540.1 1143.8,536.6 C1145.5,533.1 1147.0,526.9 1147.7,524.9" fill="none" stroke="#f0b45e" stroke-width="2.0" stroke-linecap="butt" stroke-linejoin="round" stroke-dasharray="4.2 0.8"/>
<path d="M1143.8,536.6 C1142.5,536.0 1137.3,533.4 1136.0,532.7" fill="none" stroke="#f0b45e" stroke-width="2.0" stroke-linecap="butt" stroke-linejoin="round" stroke-dasharray="4.2 0.8"/>
<path d="M1143.8,536.6 C1144.9,535.7 1149.2,532.3 1150.3,531.4" fill="none" stroke="#f0b45e" stroke-width="2.0" stroke-linecap="butt" stroke-linejoin="round" stroke-dasharray="4.2 0.8"/>
<path d="M1138.6,557.5 C1140.3,558.2 1145.1,560.0 1149.0,561.5 C1152.9,563.0 1159.9,565.8 1162.1,566.7" fill="none" stroke="#f0b45e" stroke-width="2.0" stroke-linecap="butt" stroke-linejoin="round" stroke-dasharray="4.2 0.8"/>
<path d="M1149.0,561.5 C1150.3,559.3 1155.6,550.6 1156.9,548.4" fill="none" stroke="#f0b45e" stroke-width="2.0" stroke-linecap="butt" stroke-linejoin="round" stroke-dasharray="4.2 0.8"/>
<path d="M1149.0,561.5 C1148.1,562.8 1144.5,566.3 1143.8,569.3 C1143.1,572.3 1144.9,578.0 1145.1,579.7" fill="none" stroke="#f0b45e" stroke-width="2.0" stroke-linecap="butt" stroke-linejoin="round" stroke-dasharray="4.2 0.8"/>
<path d="M1120.3,558.8 C1118.1,559.2 1110.7,559.8 1107.2,561.5 C1103.7,563.2 1102.0,567.5 1099.4,569.3 C1096.8,571.0 1092.9,571.5 1091.6,572.0" fill="none" stroke="#f0b45e" stroke-width="2.0" stroke-linecap="butt" stroke-linejoin="round" stroke-dasharray="4.2 0.8"/>
<path d="M1099.4,569.3 C1100.3,569.6 1103.7,570.7 1104.6,571.0" fill="none" stroke="#f0b45e" stroke-width="2.0" stroke-linecap="butt" stroke-linejoin="round" stroke-dasharray="4.2 0.8"/>
<path d="M1125.5,562.8 C1125.1,564.1 1124.7,568.0 1122.9,570.6 C1121.2,573.2 1116.3,577.1 1115.0,578.4" fill="none" stroke="#f0b45e" stroke-width="2.0" stroke-linecap="butt" stroke-linejoin="round" stroke-dasharray="4.2 0.8"/>
<circle cx="1128.7" cy="552.3" r="10.4" fill="#f8c679" stroke="#edb158" stroke-width="1.2"/>
<ellipse cx="1127.6" cy="552.4" rx="3.4" ry="3" fill="#e0a052"/><ellipse cx="1127.6" cy="552.4" rx="1.5" ry="1.2" fill="#c17a34"/>
<g fill="#7c9fe0"><circle cx="691.1" cy="372.4" r="8.3"/><circle cx="683.0" cy="380.0" r="7.4"/><circle cx="701.1" cy="380.0" r="6.9"/><circle cx="660.2" cy="401.8" r="5.7"/><circle cx="666.9" cy="393.3" r="7.6"/><circle cx="664.0" cy="409.4" r="5.7"/><circle cx="673.5" cy="399.9" r="10.4"/><circle cx="670.7" cy="416.1" r="6.6"/><circle cx="679.2" cy="420.4" r="7.2"/><circle cx="692.5" cy="398.0" r="14.2"/><circle cx="690.6" cy="413.2" r="11.4"/><circle cx="711.5" cy="391.4" r="9.5"/><circle cx="715.3" cy="401.8" r="7.6"/><circle cx="722.9" cy="404.2" r="6.6"/><circle cx="725.0" cy="413.2" r="5.5"/><circle cx="717.2" cy="415.1" r="9.3"/><circle cx="709.6" cy="425.6" r="6.0"/><circle cx="717.7" cy="424.6" r="5.1"/><circle cx="702.0" cy="417.0" r="9.6"/><circle cx="706.8" cy="385.7" r="7.6"/><circle cx="690.6" cy="383.8" r="7.6"/><circle cx="678.3" cy="409.4" r="7.6"/><circle cx="706.8" cy="401.8" r="7.6"/><circle cx="698.2" cy="388.5" r="8.5"/><circle cx="683.0" cy="391.4" r="8.5"/></g>
<g fill="#a7bbe8"><circle cx="691.1" cy="372.4" r="7.4"/><circle cx="683.0" cy="380.0" r="6.5"/><circle cx="701.1" cy="380.0" r="6.0"/><circle cx="660.2" cy="401.8" r="4.8"/><circle cx="666.9" cy="393.3" r="6.7"/><circle cx="664.0" cy="409.4" r="4.8"/><circle cx="673.5" cy="399.9" r="9.5"/><circle cx="670.7" cy="416.1" r="5.7"/><circle cx="679.2" cy="420.4" r="6.3"/><circle cx="692.5" cy="398.0" r="13.3"/><circle cx="690.6" cy="413.2" r="10.5"/><circle cx="711.5" cy="391.4" r="8.6"/><circle cx="715.3" cy="401.8" r="6.7"/><circle cx="722.9" cy="404.2" r="5.7"/><circle cx="725.0" cy="413.2" r="4.6"/><circle cx="717.2" cy="415.1" r="8.4"/><circle cx="709.6" cy="425.6" r="5.1"/><circle cx="717.7" cy="424.6" r="4.2"/><circle cx="702.0" cy="417.0" r="8.7"/><circle cx="706.8" cy="385.7" r="6.7"/><circle cx="690.6" cy="383.8" r="6.7"/><circle cx="678.3" cy="409.4" r="6.7"/><circle cx="706.8" cy="401.8" r="6.7"/><circle cx="698.2" cy="388.5" r="7.6"/><circle cx="683.0" cy="391.4" r="7.6"/></g>
<ellipse cx="713.4" cy="411.8" rx="11.9" ry="9.0" transform="rotate(0 713.4 411.8)" fill="#90b0e8"/>
<ellipse cx="702.0" cy="421.8" rx="12.4" ry="4.0" transform="rotate(0 702.0 421.8)" fill="#90b0e8"/>
<ellipse cx="718.2" cy="420.8" rx="4.8" ry="4.3" transform="rotate(0 718.2 420.8)" fill="#90b0e8"/>
<ellipse cx="705.8" cy="402.8" rx="3.8" ry="4.8" transform="rotate(0 705.8 402.8)" fill="#90b0e8"/>
<ellipse cx="700.1" cy="415.6" rx="10.6" ry="3.4" transform="rotate(8 700.1 415.6)" fill="#a9bde9"/>
<ellipse cx="683.0" cy="418.9" rx="6.3" ry="4.2" transform="rotate(-10 683.0 418.9)" fill="#a9bde9"/>
<ellipse cx="712.0" cy="401.1" rx="3.4" ry="2.3" transform="rotate(0 712.0 401.1)" fill="#a9bde9"/>
<ellipse cx="722.9" cy="403.0" rx="4.4" ry="3.8" transform="rotate(0 722.9 403.0)" fill="#a9bde9"/>
<ellipse cx="708.9" cy="425.8" rx="3.4" ry="3.0" transform="rotate(0 708.9 425.8)" fill="#a9bde9"/>
<ellipse cx="702.0" cy="405.6" rx="3.8" ry="2.9" transform="rotate(20 702.0 405.6)" fill="#a9bde9"/>
<ellipse cx="717.2" cy="425.6" rx="2.9" ry="2.3" transform="rotate(0 717.2 425.6)" fill="#a9bde9"/>
<ellipse cx="686.8" cy="390.4" rx="0.6" ry="3.8" transform="rotate(-30 686.8 390.4)" fill="#9bb4e8"/>
<ellipse cx="676.4" cy="387.6" rx="4.8" ry="0.5" transform="rotate(-25 676.4 387.6)" fill="#9bb4e8"/>
<g fill="#8cbd5c"><circle cx="700.7" cy="738.9" r="8.2"/><circle cx="711.3" cy="738.0" r="7.9"/><circle cx="722.0" cy="739.8" r="8.2"/><circle cx="729.6" cy="744.2" r="6.6"/><circle cx="732.0" cy="754.3" r="6.1"/><circle cx="729.9" cy="766.3" r="7.7"/><circle cx="721.7" cy="774.0" r="8.4"/><circle cx="711.3" cy="777.6" r="8.0"/><circle cx="702.8" cy="777.4" r="8.2"/><circle cx="694.1" cy="772.2" r="7.5"/><circle cx="687.8" cy="764.8" r="6.6"/><circle cx="683.9" cy="760.6" r="5.2"/><circle cx="688.5" cy="751.9" r="6.4"/><circle cx="693.2" cy="744.8" r="7.5"/><circle cx="707.8" cy="757.4" r="18.7"/><circle cx="726.5" cy="755.7" r="7.1"/><circle cx="723.8" cy="762.8" r="8.0"/></g>
<g fill="#aaca78"><circle cx="700.7" cy="738.9" r="7.3"/><circle cx="711.3" cy="738.0" r="7.0"/><circle cx="722.0" cy="739.8" r="7.3"/><circle cx="729.6" cy="744.2" r="5.7"/><circle cx="732.0" cy="754.3" r="5.2"/><circle cx="729.9" cy="766.3" r="6.8"/><circle cx="721.7" cy="774.0" r="7.5"/><circle cx="711.3" cy="777.6" r="7.1"/><circle cx="702.8" cy="777.4" r="7.3"/><circle cx="694.1" cy="772.2" r="6.6"/><circle cx="687.8" cy="764.8" r="5.7"/><circle cx="683.9" cy="760.6" r="4.3"/><circle cx="688.5" cy="751.9" r="5.5"/><circle cx="693.2" cy="744.8" r="6.6"/><circle cx="707.8" cy="757.4" r="17.8"/><circle cx="726.5" cy="755.7" r="6.2"/><circle cx="723.8" cy="762.8" r="7.1"/></g>
<ellipse cx="703.3" cy="774.4" rx="12.5" ry="7.1" transform="rotate(0 703.3 774.4)" fill="#97c568"/>
<ellipse cx="691.7" cy="766.3" rx="4.9" ry="4.0" transform="rotate(0 691.7 766.3)" fill="#97c568"/>
<ellipse cx="731.8" cy="760.1" rx="2.7" ry="6.2" transform="rotate(0 731.8 760.1)" fill="#97c568"/>
<ellipse cx="702.4" cy="753.0" rx="10.7" ry="0.6" transform="rotate(25 702.4 753.0)" fill="#97c568"/>
<ellipse cx="722.0" cy="749.4" rx="5.3" ry="0.5" transform="rotate(-30 722.0 749.4)" fill="#97c568"/>
<ellipse cx="722.9" cy="770.8" rx="9.8" ry="7.8" transform="rotate(-20 722.9 770.8)" fill="#b2ce84"/>
<ellipse cx="694.9" cy="761.9" rx="7.8" ry="5.5" transform="rotate(0 694.9 761.9)" fill="#b2ce84"/>
<ellipse cx="712.2" cy="761.9" rx="9.4" ry="5.5" transform="rotate(-25 712.2 761.9)" fill="#b2ce84"/>
<ellipse cx="731.4" cy="752.1" rx="3.4" ry="3.6" transform="rotate(0 731.4 752.1)" fill="#b2ce84"/>
<ellipse cx="693.5" cy="767.2" rx="2.0" ry="1.8" transform="rotate(0 693.5 767.2)" fill="#b2ce84"/>
<ellipse cx="700.7" cy="774.8" rx="2.7" ry="0.9" transform="rotate(0 700.7 774.8)" fill="#b2ce84"/>
<g fill="#e27c4e"><circle cx="683.2" cy="621.1" r="8.8"/><circle cx="688.0" cy="621.4" r="7.0"/><circle cx="684.6" cy="625.9" r="7.0"/><circle cx="690.8" cy="626.8" r="9.8"/><circle cx="696.8" cy="630.4" r="9.8"/><circle cx="694.8" cy="633.1" r="8.4"/><circle cx="701.9" cy="635.3" r="10.0"/><circle cx="707.5" cy="639.5" r="10.0"/><circle cx="709.3" cy="637.2" r="8.0"/><circle cx="713.0" cy="643.8" r="9.8"/><circle cx="716.0" cy="648.1" r="8.4"/><circle cx="718.9" cy="648.3" r="9.0"/><circle cx="692.9" cy="624.0" r="7.0"/><circle cx="710.9" cy="646.7" r="7.0"/><circle cx="699.5" cy="638.5" r="7.0"/><circle cx="704.3" cy="632.1" r="7.0"/></g>
<g fill="#f19b70"><circle cx="683.2" cy="621.1" r="8.0"/><circle cx="688.0" cy="621.4" r="6.2"/><circle cx="684.6" cy="625.9" r="6.2"/><circle cx="690.8" cy="626.8" r="9.0"/><circle cx="696.8" cy="630.4" r="9.0"/><circle cx="694.8" cy="633.1" r="7.6"/><circle cx="701.9" cy="635.3" r="9.2"/><circle cx="707.5" cy="639.5" r="9.2"/><circle cx="709.3" cy="637.2" r="7.2"/><circle cx="713.0" cy="643.8" r="9.0"/><circle cx="716.0" cy="648.1" r="7.6"/><circle cx="718.9" cy="648.3" r="8.2"/><circle cx="692.9" cy="624.0" r="6.2"/><circle cx="710.9" cy="646.7" r="6.2"/><circle cx="699.5" cy="638.5" r="6.2"/><circle cx="704.3" cy="632.1" r="6.2"/></g>
<ellipse cx="685.6" cy="620.4" rx="4.0" ry="3.0" transform="rotate(37.3 685.6 620.4)" fill="#f4a780"/>
<ellipse cx="688.1" cy="628.6" rx="4.6" ry="3.2" transform="rotate(37.3 688.1 628.6)" fill="#f4a780"/>
<ellipse cx="696.7" cy="625.7" rx="4.6" ry="3.0" transform="rotate(37.3 696.7 625.7)" fill="#f4a780"/>
<ellipse cx="698.3" cy="635.1" rx="5.0" ry="3.4" transform="rotate(37.3 698.3 635.1)" fill="#f4a780"/>
<ellipse cx="707.8" cy="634.2" rx="4.6" ry="3.0" transform="rotate(37.3 707.8 634.2)" fill="#f4a780"/>
<ellipse cx="708.0" cy="643.8" rx="5.0" ry="3.4" transform="rotate(37.3 708.0 643.8)" fill="#f4a780"/>
<ellipse cx="717.2" cy="643.2" rx="4.4" ry="3.2" transform="rotate(37.3 717.2 643.2)" fill="#f4a780"/>
<ellipse cx="716.8" cy="650.4" rx="3.4" ry="2.6" transform="rotate(37.3 716.8 650.4)" fill="#f4a780"/>
<ellipse cx="696.9" cy="630.3" rx="3.0" ry="2.0" transform="rotate(37.3 696.9 630.3)" fill="#ee8f62"/>
<ellipse cx="712.7" cy="641.0" rx="3.0" ry="2.0" transform="rotate(37.3 712.7 641.0)" fill="#ee8f62"/>
<g fill="#685ea8"><circle cx="812.3" cy="614.2" r="5.5"/><circle cx="817.7" cy="615.9" r="4.4"/><circle cx="804.5" cy="619.8" r="6.4"/><circle cx="795.3" cy="622.0" r="4.9"/><circle cx="813.7" cy="624.1" r="7.8"/><circle cx="801.0" cy="628.3" r="7.8"/><circle cx="812.3" cy="635.4" r="9.2"/><circle cx="799.6" cy="638.2" r="7.8"/><circle cx="806.7" cy="645.3" r="10.6"/><circle cx="798.2" cy="648.2" r="5.8"/><circle cx="815.4" cy="648.2" r="6.4"/><circle cx="803.8" cy="654.5" r="6.1"/><circle cx="812.6" cy="654.5" r="6.1"/><circle cx="806.7" cy="632.6" r="10.6"/><circle cx="818.7" cy="628.3" r="3.2"/><circle cx="793.2" cy="638.2" r="3.2"/></g>
<g fill="#7b72b6"><circle cx="812.3" cy="614.2" r="4.8"/><circle cx="817.7" cy="615.9" r="3.7"/><circle cx="804.5" cy="619.8" r="5.7"/><circle cx="795.3" cy="622.0" r="4.2"/><circle cx="813.7" cy="624.1" r="7.1"/><circle cx="801.0" cy="628.3" r="7.1"/><circle cx="812.3" cy="635.4" r="8.5"/><circle cx="799.6" cy="638.2" r="7.1"/><circle cx="806.7" cy="645.3" r="9.9"/><circle cx="798.2" cy="648.2" r="5.1"/><circle cx="815.4" cy="648.2" r="5.7"/><circle cx="803.8" cy="654.5" r="5.4"/><circle cx="812.6" cy="654.5" r="5.4"/><circle cx="806.7" cy="632.6" r="9.9"/><circle cx="818.7" cy="628.3" r="2.5"/><circle cx="793.2" cy="638.2" r="2.5"/></g>
<ellipse cx="812.3" cy="614.9" rx="3.1" ry="2.3" transform="rotate(0 812.3 614.9)" fill="#8a80c2"/>
<ellipse cx="804.5" cy="619.8" rx="3.4" ry="2.3" transform="rotate(-20 804.5 619.8)" fill="#8a80c2"/>
<ellipse cx="815.2" cy="625.5" rx="3.7" ry="2.5" transform="rotate(20 815.2 625.5)" fill="#8a80c2"/>
<ellipse cx="799.6" cy="630.5" rx="3.1" ry="4.0" transform="rotate(0 799.6 630.5)" fill="#8a80c2"/>
<ellipse cx="810.9" cy="636.8" rx="4.2" ry="2.8" transform="rotate(-20 810.9 636.8)" fill="#8a80c2"/>
<ellipse cx="800.3" cy="642.5" rx="3.1" ry="2.5" transform="rotate(0 800.3 642.5)" fill="#8a80c2"/>
<ellipse cx="813.0" cy="648.9" rx="3.4" ry="2.5" transform="rotate(20 813.0 648.9)" fill="#8a80c2"/>
<ellipse cx="804.5" cy="654.5" rx="3.4" ry="2.0" transform="rotate(0 804.5 654.5)" fill="#8a80c2"/>
<ellipse cx="806.7" cy="628.3" rx="2.0" ry="1.4" transform="rotate(0 806.7 628.3)" fill="#6c62a8"/>
<ellipse cx="806.7" cy="646.7" rx="2.3" ry="1.4" transform="rotate(0 806.7 646.7)" fill="#6c62a8"/>
<path d="M924.0,614.0 C925.8,613.9 928.3,614.3 930.0,615.5 C931.7,616.7 933.2,619.2 934.0,621.0 C934.8,622.8 934.7,624.7 935.0,626.0 C935.3,627.3 936.2,627.8 936.0,629.0 C935.8,630.2 934.7,631.5 934.0,633.0 C933.3,634.5 933.0,636.5 932.0,638.0 C931.0,639.5 929.5,640.5 928.0,642.0 C926.5,643.5 924.8,645.7 923.0,647.0 C921.2,648.3 918.8,648.9 917.0,650.0 C915.2,651.1 913.7,652.9 912.0,653.5 C910.3,654.1 908.8,654.0 907.0,653.5 C905.2,653.0 903.3,651.8 901.5,650.5 C899.7,649.2 897.2,647.6 896.0,646.0 C894.8,644.4 894.4,642.5 894.5,641.0 C894.6,639.5 895.2,637.9 896.5,637.0 C897.8,636.1 900.1,635.8 902.0,635.5 C903.9,635.2 906.2,636.1 908.0,635.5 C909.8,634.9 911.7,633.4 913.0,632.0 C914.3,630.6 915.4,628.8 916.0,627.0 C916.6,625.2 916.0,622.8 916.5,621.0 C917.0,619.2 917.8,617.2 919.0,616.0 C920.2,614.8 922.2,614.1 924.0,614.0 Z" fill="#95c964" stroke="#86bf54" stroke-width="1"/>
<path d="M923.5,617.5 C924.7,617.9 926.9,620.1 928.0,621.5 C929.1,622.9 929.8,624.2 930.0,626.0 C930.2,627.8 929.5,630.2 929.0,632.0 C928.5,633.8 928.0,635.5 927.0,637.0 C926.0,638.5 924.7,639.7 923.0,641.0 C921.3,642.3 919.2,643.6 917.0,645.0 C914.8,646.4 912.0,648.8 910.0,649.5 C908.0,650.2 906.7,649.7 905.0,649.0 C903.3,648.3 901.1,646.8 900.0,645.5 C898.9,644.2 898.2,642.6 898.5,641.5 C898.8,640.4 899.8,639.4 901.5,639.0 C903.2,638.6 906.6,639.7 909.0,639.0 C911.4,638.3 914.2,636.5 916.0,635.0 C917.8,633.5 919.3,632.0 920.0,630.0 C920.7,628.0 919.8,624.8 920.0,623.0 C920.2,621.2 920.4,619.9 921.0,619.0 C921.6,618.1 922.3,617.1 923.5,617.5 Z" fill="#adcd7b"/>
<path d="M922.0,621.5 C922.6,621.8 924.0,624.4 924.0,626.0 C924.0,627.6 922.7,629.7 922.0,631.0 C921.3,632.3 920.4,634.3 920.0,634.0 C919.6,633.7 919.4,630.7 919.5,629.0 C919.6,627.3 920.1,625.2 920.5,624.0 C920.9,622.8 921.4,621.2 922.0,621.5 Z" fill="#9bca6b"/>
<path d="M833.8,413.8 C834.0,412.5 836.2,409.6 836.9,407.5 C837.5,405.4 837.6,403.1 837.5,401.2 C837.4,399.4 835.8,398.1 836.2,396.2 C836.7,394.4 839.1,391.8 840.0,390.0 C840.9,388.2 840.7,386.5 841.9,385.6 C843.0,384.8 845.2,385.7 846.9,385.0 C848.5,384.3 850.1,382.0 851.9,381.2 C853.6,380.5 855.5,380.4 857.5,380.6 C859.5,380.8 861.8,382.3 863.8,382.5 C865.7,382.7 868.0,381.7 869.4,381.9 C870.7,382.1 871.7,382.6 871.9,383.8 C872.1,384.9 871.0,387.4 870.6,388.8 C870.2,390.1 869.1,390.4 869.4,391.9 C869.7,393.3 871.9,395.5 872.5,397.5 C873.1,399.5 873.5,402.1 873.1,403.8 C872.7,405.4 871.1,406.6 870.0,407.5 C868.9,408.4 867.2,408.4 866.2,409.4 C865.3,410.3 865.4,412.4 864.4,413.1 C863.3,413.9 861.6,413.8 860.0,413.8 C858.4,413.8 856.7,412.5 855.0,413.1 C853.3,413.8 851.6,417.2 850.0,417.5 C848.4,417.8 847.2,415.7 845.6,415.0 C844.1,414.3 842.3,413.1 840.6,413.1 C839.0,413.1 836.8,414.9 835.6,415.0 C834.5,415.1 833.5,415.0 833.8,413.8 Z" fill="#dba55e" stroke="#c99044" stroke-width="1"/>
<ellipse cx="852.8" cy="396.5" rx="4.8" ry="6.1" transform="rotate(22 852.8 396.5)" fill="#c58c48"/>
<ellipse cx="852.3" cy="395.7" rx="2" ry="2.8" transform="rotate(22 852.3 395.7)" fill="#a46c2c"/>
<path d="M915.6,380.0 C916.0,380.4 917.9,384.8 918.8,386.2 C919.6,387.7 922.4,392.8 923.1,393.1 C923.9,393.5 925.1,389.3 925.6,389.4 C926.1,389.4 926.7,393.1 927.5,393.8 C928.3,394.4 932.0,396.0 933.1,395.6 C934.2,395.3 936.9,390.9 937.5,390.6 C938.1,390.3 937.6,393.6 938.8,393.1 C939.9,392.6 947.4,385.9 947.5,386.2 C947.6,386.6 941.1,394.8 940.0,396.2 C938.9,397.7 937.8,398.3 937.5,399.4 C937.2,400.5 936.2,404.4 936.9,406.2 C937.5,408.1 943.2,415.0 943.1,415.6 C943.1,416.2 937.7,412.4 936.2,411.9 C934.8,411.3 931.4,410.6 930.0,410.6 C928.6,410.6 925.1,411.0 923.8,411.9 C922.4,412.8 918.1,418.8 917.5,418.8 C916.9,418.8 918.9,413.1 918.8,411.9 C918.6,410.6 918.0,407.6 916.2,407.5 C914.5,407.4 903.5,411.7 903.1,411.2 C902.7,410.8 911.7,404.7 912.5,403.8 C913.3,402.8 910.3,402.8 910.6,402.5 C910.9,402.2 914.0,401.8 915.0,401.2 C916.0,400.7 919.5,398.6 920.0,397.5 C920.5,396.4 919.9,392.9 919.4,391.2 C918.8,389.6 915.4,383.8 915.0,382.5 C914.6,381.2 915.2,379.6 915.6,380.0 Z" fill="#f8cdc8" stroke="#eeb0ac" stroke-width="0.9" stroke-linejoin="round"/>
<ellipse cx="926.6" cy="401.9" rx="4.4" ry="3.4" transform="rotate(30 926.6 401.9)" fill="#efa9ab"/>
<ellipse cx="927" cy="402.1" rx="2" ry="1.3" transform="rotate(30 927 402.1)" fill="#e18d97"/>
<circle cx="1118.8" cy="368.7" r="4.1" fill="url(#pf1)"/>
<circle cx="1144.8" cy="374" r="4.1" fill="url(#pf1)"/>
<circle cx="1105.8" cy="377.3" r="4.1" fill="url(#pf1)"/>
<circle cx="1137.6" cy="385.4" r="4.1" fill="url(#pf1)"/>
<circle cx="1092.8" cy="387" r="4.1" fill="url(#pf1)"/>
<circle cx="1110" cy="394.7" r="4.1" fill="url(#pf1)"/>
<circle cx="1153.4" cy="400.5" r="4.1" fill="url(#pf1)"/>
<circle cx="1097" cy="412.4" r="4.1" fill="url(#pf1)"/>
<circle cx="1114.4" cy="418.5" r="4.1" fill="url(#pf1)"/>
<circle cx="1127.4" cy="419" r="4.1" fill="url(#pf1)"/>
<circle cx="1144.8" cy="415.7" r="4.1" fill="url(#pf1)"/>
<circle cx="1123" cy="386" r="4.3" fill="url(#pf2)"/>
<circle cx="1118.8" cy="402.7" r="4.3" fill="url(#pf2)"/>
<circle cx="1131.8" cy="400.5" r="4.3" fill="url(#pf2)"/>
<circle cx="1114.4" cy="418.5" r="4.1" fill="#e86a8b" opacity="0.75"/>
<circle cx="1127.4" cy="419" r="4.1" fill="#e86a8b" opacity="0.75"/>
<circle cx="1105.8" cy="377.3" r="4.1" fill="#e86a8b" opacity="0.75"/>
<path d="M467.5,765.8 C468.7,764.4 473.3,761.4 476.3,759.5 C479.2,757.6 482.1,755.6 485.0,754.3 C487.9,752.9 491.1,752.1 493.8,751.6 C496.4,751.1 498.4,751.1 500.8,751.3 C503.1,751.4 505.1,751.4 507.8,752.5 C510.4,753.6 513.6,756.1 516.5,757.8 C519.4,759.4 522.9,760.7 525.3,762.1 C527.6,763.6 530.0,765.3 530.9,766.3 C531.7,767.3 531.4,768.3 530.2,768.3 C528.9,768.2 526.1,766.9 523.5,765.8 C520.9,764.7 517.1,762.4 514.8,761.6 C512.4,760.8 510.8,760.6 509.2,761.3 C507.5,761.9 506.1,764.5 504.6,765.5 C503.1,766.4 501.5,767.0 499.9,767.0 C498.2,767.1 496.4,766.6 494.8,765.6 C493.2,764.7 492.0,762.2 490.3,761.4 C488.5,760.7 486.6,760.7 484.3,761.3 C482.0,761.8 478.8,763.8 476.3,764.9 C473.7,766.1 470.4,767.9 468.9,768.1 C467.4,768.2 466.3,767.2 467.5,765.8 Z" fill="#f4bcc0" stroke="#e8939d" stroke-width="1.0"/>
<ellipse cx="498.2" cy="757.8" rx="6.6" ry="3.5" fill="#e68c98"/>
<path d="M1056.0,740.6 L1171.3,740.6 L1171.3,742.3 L1168.3,742.3 L1163.1,746.3 L1157.8,742.3 L1154.8,742.3 L1151.9,742.3 L1146.6,746.3 L1141.3,742.3 L1138.4,742.3 L1135.4,742.3 L1130.1,746.3 L1124.9,742.3 L1121.9,742.3 L1118.9,742.3 L1113.7,746.3 L1108.4,742.3 L1105.4,742.3 L1102.4,742.3 L1097.2,746.3 L1091.9,742.3 L1088.9,742.3 L1086.0,742.3 L1080.7,746.3 L1075.4,742.3 L1072.5,742.3 L1069.5,742.3 L1064.2,746.3 L1059.0,742.3 L1056.0,742.3 Z" fill="#f6c1c8" stroke="#f4b6bf" stroke-width="0.5" stroke-linejoin="round"/>
<ellipse cx="1064.2" cy="744.3" rx="2.1" ry="1.0" fill="#e98e9e"/>
<ellipse cx="1080.7" cy="744.3" rx="2.1" ry="1.0" fill="#e98e9e"/>
<ellipse cx="1097.2" cy="744.3" rx="2.1" ry="1.0" fill="#e98e9e"/>
<ellipse cx="1113.7" cy="744.3" rx="2.1" ry="1.0" fill="#e98e9e"/>
<ellipse cx="1130.1" cy="744.3" rx="2.1" ry="1.0" fill="#e98e9e"/>
<ellipse cx="1146.6" cy="744.3" rx="2.1" ry="1.0" fill="#e98e9e"/>
<ellipse cx="1163.1" cy="744.3" rx="2.1" ry="1.0" fill="#e98e9e"/>
<path d="M1056.0,772.8 L1171.3,772.8 L1171.3,771.1 L1168.3,771.1 L1163.1,767.1 L1157.8,771.1 L1154.8,771.1 L1151.9,771.1 L1146.6,767.1 L1141.3,771.1 L1138.4,771.1 L1135.4,771.1 L1130.1,767.1 L1124.9,771.1 L1121.9,771.1 L1118.9,771.1 L1113.7,767.1 L1108.4,771.1 L1105.4,771.1 L1102.4,771.1 L1097.2,767.1 L1091.9,771.1 L1088.9,771.1 L1086.0,771.1 L1080.7,767.1 L1075.4,771.1 L1072.5,771.1 L1069.5,771.1 L1064.2,767.1 L1059.0,771.1 L1056.0,771.1 Z" fill="#f6c1c8" stroke="#f4b6bf" stroke-width="0.5" stroke-linejoin="round"/>
<ellipse cx="1064.2" cy="769.1" rx="2.1" ry="1.0" fill="#e98e9e"/>
<ellipse cx="1080.7" cy="769.1" rx="2.1" ry="1.0" fill="#e98e9e"/>
<ellipse cx="1097.2" cy="769.1" rx="2.1" ry="1.0" fill="#e98e9e"/>
<ellipse cx="1113.7" cy="769.1" rx="2.1" ry="1.0" fill="#e98e9e"/>
<ellipse cx="1130.1" cy="769.1" rx="2.1" ry="1.0" fill="#e98e9e"/>
<ellipse cx="1146.6" cy="769.1" rx="2.1" ry="1.0" fill="#e98e9e"/>
<ellipse cx="1163.1" cy="769.1" rx="2.1" ry="1.0" fill="#e98e9e"/>
</svg>
</body></html>
